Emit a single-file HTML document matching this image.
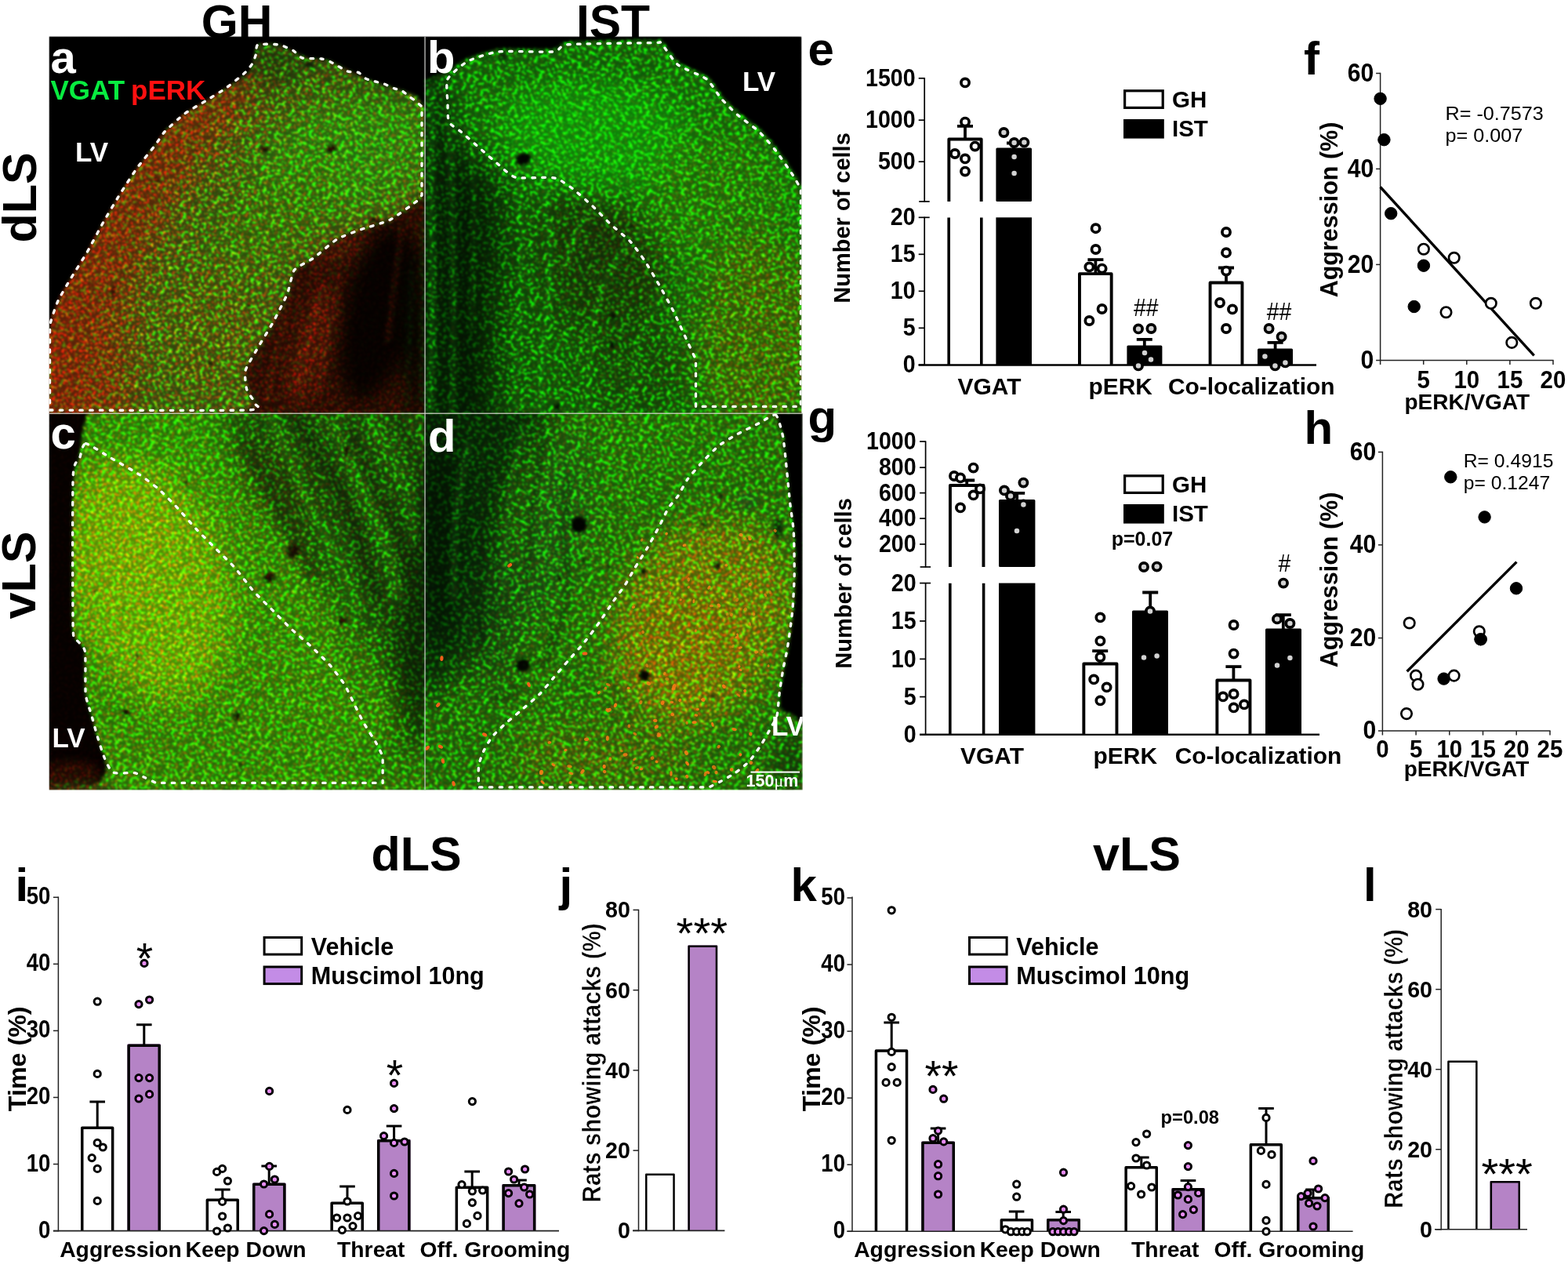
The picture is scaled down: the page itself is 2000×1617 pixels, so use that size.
<!DOCTYPE html>
<html lang="en">
<head>
<meta charset="utf-8">
<title>Figure: VGAT / pERK in dLS and vLS</title>
<style>
html,body{margin:0;padding:0;background:#fff;}
html{overflow:hidden;}
body{width:2000px;height:1617px;overflow:hidden;}
svg{display:block;}
text{font-family:"Liberation Sans",Arial,Helvetica,sans-serif;}
</style>
</head>
<body>
<svg width="2000" height="1617" viewBox="0 0 2000 1617" fill="#000" font-weight="bold">
<g stroke="none">
<text stroke="none" x="302" y="48.6" font-size="60.5" text-anchor="middle">GH</text>
<text stroke="none" x="782" y="48.6" font-size="60.5" text-anchor="middle">IST</text>
</g>
<defs>
<clipPath id="cpA"><rect x="62.6" y="46.6" width="479.2" height="480.6"/></clipPath>
<clipPath id="cpB"><rect x="541.8" y="46.6" width="480.7" height="480.6"/></clipPath>
<clipPath id="cpC"><rect x="62.6" y="527.2" width="479.2" height="480.4"/></clipPath>
<clipPath id="cpD"><rect x="541.8" y="527.2" width="482" height="480.4"/></clipPath>
<clipPath id="cpAll"><path d="M62.6 46.6H1022.5V527.2H1023.8V1007.6H62.6Z"/></clipPath>
<clipPath id="dkA"><path d="M314.7 539.13C291.11 536.09 325.35 519.04 325.35 514.78C325.35 510.52 315.91 500.78 314.7 496.52C313.48 492.26 311.65 477.65 313.17 472.17C314.7 466.7 326.41 447.83 329.91 441.74C333.41 435.65 344.52 418 348.17 411.3C351.83 404.61 363.7 381.48 366.43 374.78C369.17 368.09 372.22 348.91 375.57 344.35C378.91 339.78 394.43 333.09 399.91 329.13C405.39 325.17 424.26 308.43 430.35 304.78C436.43 301.13 454.09 295.04 460.78 292.61C467.48 290.17 489.39 284.7 497.3 280.43C505.22 276.17 533.52 254.57 539.91 250C546.3 245.43 559.09 205.26 561.22 234.78C563.35 264.3 585.87 514.78 561.22 545.22C536.57 575.65 338.28 542.17 314.7 539.13Z"/></clipPath>
<filter id="b20" x="-40%" y="-40%" width="180%" height="180%" color-interpolation-filters="sRGB"><feGaussianBlur stdDeviation="20"/></filter>
<filter id="b12" x="-40%" y="-40%" width="180%" height="180%" color-interpolation-filters="sRGB"><feGaussianBlur stdDeviation="12"/></filter>
<filter id="b6" x="-40%" y="-40%" width="180%" height="180%" color-interpolation-filters="sRGB"><feGaussianBlur stdDeviation="6"/></filter>
<filter id="b3" x="-40%" y="-40%" width="180%" height="180%" color-interpolation-filters="sRGB"><feGaussianBlur stdDeviation="3"/></filter>
<filter id="b15" x="-40%" y="-40%" width="180%" height="180%" color-interpolation-filters="sRGB"><feGaussianBlur stdDeviation="1.5"/></filter>
<filter id="b1" x="-40%" y="-40%" width="180%" height="180%" color-interpolation-filters="sRGB"><feGaussianBlur stdDeviation="1"/></filter>
<filter id="b07" x="-40%" y="-40%" width="180%" height="180%" color-interpolation-filters="sRGB"><feGaussianBlur stdDeviation="0.7"/></filter>
<filter id="spk" filterUnits="userSpaceOnUse" x="-110" y="-125" width="1304" height="1304" color-interpolation-filters="sRGB"><feTurbulence type="fractalNoise" baseFrequency="0.21 0.26" numOctaves="2" seed="7" result="na"/><feColorMatrix in="na" type="matrix" values="0 0 0 0 0  0 8 0 0 -4.4  0 0 0 0 0  0 0 0 0 1" result="ga"/><feTurbulence type="fractalNoise" baseFrequency="0.3 0.35" numOctaves="2" seed="3" result="nb"/><feColorMatrix in="nb" type="matrix" values="8 0 0 0 -4.4  0 0 0 0 0  0 0 0 0 0  0 0 0 0 1" result="rb"/><feComposite in="ga" in2="rb" operator="arithmetic" k1="0" k2="1" k3="1" k4="0" result="n2"/><feComposite in="SourceGraphic" in2="n2" operator="arithmetic" k1="2" k2="0.65" k3="0" k4="0"/><feGaussianBlur stdDeviation="0.85"/></filter>
</defs>
<g clip-path="url(#cpAll)"><g id="micrographs" transform="rotate(27 542 527)" filter="url(#spk)"><g transform="rotate(-27 542 527)">
<g clip-path="url(#cpA)">
<rect x="62" y="46" width="481" height="482" fill="#4a6c14"/>
<g filter="url(#b20)"><path d="M37.74 557.39C21.91 535.07 30.03 423.28 37.74 390C45.45 356.72 79.74 332.58 95.57 307.83C111.39 283.07 138.99 227.88 156.43 204.35C173.88 180.81 207.36 147.13 226.43 131.3C245.51 115.48 285.68 97.01 299.48 85.65C313.28 74.29 321.39 47.71 329.91 46.09C338.43 44.46 367.45 59.68 363.39 73.48C359.33 87.28 316.12 128.87 299.48 149.57C282.84 170.26 252.81 206.78 238.61 228.7C224.41 250.61 202.7 290.38 192.96 313.91C183.22 337.45 170.43 372.75 165.57 405.22C160.7 437.68 173.48 537.1 156.43 557.39C139.39 577.68 53.57 579.71 37.74 557.39Z" fill="#7e3c0c"/><path d="M31.65 557.39C22.72 536.29 25.97 426.72 31.65 399.13C37.33 371.54 61.68 367.48 74.26 350.43C86.84 333.39 111.39 293.62 126 271.3C140.61 248.99 179.77 183.04 183.83 183.04C187.88 183.04 164.96 247.36 156.43 271.3C147.91 295.25 127.22 340.7 119.91 362.61C112.61 384.52 104.49 409.68 101.65 435.65C98.81 461.62 107.94 541.16 98.61 557.39C89.28 573.62 40.58 578.49 31.65 557.39Z" fill="#8e300a" opacity="0.9"/><ellipse cx="442.52" cy="198.26" rx="121.74" ry="70" fill="#37a214" opacity="0.95" transform="rotate(-18 442.52 198.26)"/><ellipse cx="348.17" cy="283.48" rx="91.3" ry="45.65" fill="#40880f" opacity="0.75" transform="rotate(-40 348.17 283.48)"/><ellipse cx="269.04" cy="420.43" rx="60.87" ry="79.13" fill="#5a6a10" opacity="0.6" transform="rotate(10 269.04 420.43)"/><ellipse cx="348.17" cy="79.57" rx="45.65" ry="30.43" fill="#1e4b0e" opacity="0.95"/><ellipse cx="466.87" cy="97.83" rx="79.13" ry="18.26" fill="#2c5a10" opacity="0.8" transform="rotate(12 466.87 97.83)"/></g>
<g filter="url(#b3)"><path d="M314.7 539.13C291.11 536.09 325.35 519.04 325.35 514.78C325.35 510.52 315.91 500.78 314.7 496.52C313.48 492.26 311.65 477.65 313.17 472.17C314.7 466.7 326.41 447.83 329.91 441.74C333.41 435.65 344.52 418 348.17 411.3C351.83 404.61 363.7 381.48 366.43 374.78C369.17 368.09 372.22 348.91 375.57 344.35C378.91 339.78 394.43 333.09 399.91 329.13C405.39 325.17 424.26 308.43 430.35 304.78C436.43 301.13 454.09 295.04 460.78 292.61C467.48 290.17 489.39 284.7 497.3 280.43C505.22 276.17 533.52 254.57 539.91 250C546.3 245.43 559.09 205.26 561.22 234.78C563.35 264.3 585.87 514.78 561.22 545.22C536.57 575.65 338.28 542.17 314.7 539.13Z" fill="#300f04"/></g>
<g clip-path="url(#dkA)">
<g filter="url(#b12)"><ellipse cx="482.09" cy="399.13" rx="45.65" ry="115.65" fill="#070200" transform="rotate(12 482.09 399.13)"/><ellipse cx="530.78" cy="420.43" rx="15.22" ry="115.65" fill="#060601"/><ellipse cx="396.87" cy="444.78" rx="21.3" ry="79.13" fill="#5a1c08" opacity="0.9" transform="rotate(18 396.87 444.78)"/><ellipse cx="436.43" cy="313.91" rx="36.52" ry="18.26" fill="#4a1a08" opacity="0.8" transform="rotate(-25 436.43 313.91)"/></g>
<g filter="url(#b3)"><path d="M412.09 362.61C409.8 371.28 401.89 401.26 396.87 420.43C391.85 439.61 381.35 479.93 378.61 490.43" fill="none" stroke="#8a2a10" stroke-width="2.74" stroke-linecap="round" opacity="0.8"/><path d="M433.39 347.39C431.57 357.43 425.33 391.07 421.22 414.35C417.11 437.63 408.28 489.37 406 502.61" fill="none" stroke="#7a2810" stroke-width="2.43" stroke-linecap="round" opacity="0.7"/><path d="M363.39 399.13C361.11 409.17 351.83 448.74 348.17 466.09C344.52 483.43 340.41 507.48 339.04 514.78" fill="none" stroke="#7a2a10" stroke-width="2.74" stroke-linecap="round" opacity="0.7"/><path d="M512.52 289.57C511.15 300.07 506.13 337.65 503.39 359.57C500.65 381.48 495.63 424.24 494.26 435.65" fill="none" stroke="#5a2008" stroke-width="3.04" stroke-linecap="round" opacity="0.7"/><path d="M539.91 271.3C539.82 286.83 539.53 338.26 539.3 374.78C539.08 411.3 538.53 493.78 538.39 514.78" fill="none" stroke="#0f4a0c" stroke-width="2.13" stroke-linecap="round" opacity="0.9"/><path d="M524.7 344.35C524.24 358.04 522.57 410.09 521.65 435.65C520.74 461.22 519.07 502.91 518.61 514.78" fill="none" stroke="#0c300a" stroke-width="1.83" stroke-linecap="round" opacity="0.8"/></g>
</g>
<g filter="url(#b15)"><ellipse cx="337.52" cy="189.74" rx="4.87" ry="3.96" fill="#1c0a02" transform="rotate(30 337.52 189.74)"/><ellipse cx="422.74" cy="189.74" rx="6.09" ry="4.26" fill="#1c0a02" transform="rotate(-20 422.74 189.74)"/><ellipse cx="199.04" cy="230.22" rx="6.7" ry="2.74" fill="#3a1a06" opacity="0.8" transform="rotate(30 199.04 230.22)"/><ellipse cx="477.52" cy="281.96" rx="6.7" ry="4.87" fill="#2a0e04" opacity="0.9"/><ellipse cx="144.26" cy="371.74" rx="3.65" ry="6.7" fill="#3a1206" opacity="0.8" transform="rotate(10 144.26 371.74)"/><ellipse cx="269.04" cy="463.04" rx="2.74" ry="2.74" fill="#1c1004"/><ellipse cx="317.74" cy="390" rx="2.13" ry="2.13" fill="#1c1004"/><ellipse cx="393.83" cy="82" rx="7.91" ry="3.04" fill="#12200a" opacity="0.9"/><ellipse cx="291.87" cy="409.78" rx="2.43" ry="2.43" fill="#1c1004"/></g>
<g filter="url(#b15)"><path d="M561.22 134.35C559.09 145.61 542.96 135.57 539.91 134.35C536.87 133.13 534.13 124.3 530.78 122.17C527.43 120.04 511.91 114.87 506.43 113.04C500.96 111.22 481.48 105.89 476 103.91C470.52 101.93 457.13 95.85 451.65 93.26C446.17 90.67 427 79.96 421.22 78.04C415.43 76.13 398.7 75.46 393.83 74.09C388.96 72.72 376.48 66.08 372.52 64.35C368.57 62.61 358.52 57.5 354.26 56.74C350 55.98 332.96 55.07 329.91 56.74C326.87 58.41 325.04 69.98 323.83 73.48C322.61 76.98 321.39 87.78 317.74 91.74C314.09 95.7 292.78 109.39 287.3 113.04C281.83 116.7 268.13 125.07 262.96 128.26C257.78 131.46 240.86 141.04 235.57 145C230.27 148.96 213.77 163.78 210 167.83C206.23 171.87 201.33 180.85 197.83 185.48C194.33 190.1 179.44 207.91 175 214.09C170.56 220.27 157.68 240.38 153.39 247.26C149.1 254.14 136.32 275.44 132.09 282.87C127.86 290.3 115.2 314.4 111.09 321.52C106.98 328.64 94.68 347.91 91 354.09C87.32 360.27 76.85 377.83 74.26 383.3C71.67 388.78 66.29 404.85 65.13 408.87C63.97 412.89 65.43 421.71 62.7 423.48C59.96 425.24 40.23 466.7 37.74 426.52C35.24 386.35 -14.61 62.22 37.74 21.74C90.09 -18.74 508.87 10.48 561.22 21.74C613.57 33 563.35 123.09 561.22 134.35Z" fill="#000"/></g>
</g>
<g clip-path="url(#cpB)">
<rect x="541" y="46" width="483" height="482" fill="#198c0e"/>
<g filter="url(#b20)"><path d="M517.74 85.65C524.64 24.78 560.96 89.91 569.48 100.87C578 111.83 573.13 151.59 581.65 167.83C590.17 184.06 623.25 203.13 633.39 222.61C643.54 242.09 656.52 287.54 657.74 313.91C658.96 340.29 645.36 387.97 642.52 420.43C639.68 452.9 653.07 539.13 636.43 557.39C619.8 575.65 533.57 620.29 517.74 557.39C501.91 494.49 510.84 146.52 517.74 85.65Z" fill="#072c06"/><ellipse cx="596.87" cy="390" rx="22.83" ry="170.43" fill="#031a03"/><ellipse cx="767.3" cy="344.35" rx="76.09" ry="103.48" fill="#1e3a08" transform="rotate(-28 767.3 344.35)"/><ellipse cx="755.13" cy="313.91" rx="39.57" ry="63.91" fill="#20300a" opacity="0.85" transform="rotate(-28 755.13 313.91)"/><ellipse cx="809.91" cy="466.09" rx="70" ry="60.87" fill="#1c540a" opacity="0.85"/><ellipse cx="682.09" cy="450.87" rx="21.3" ry="91.3" fill="#14700c" opacity="0.6" transform="rotate(8 682.09 450.87)"/><path d="M636.43 234.78C651.45 194.2 721.86 232.35 749.04 253.04C776.23 273.74 823.3 349.42 840.35 390C857.39 430.58 904.06 535.07 876.87 557.39C849.68 579.71 668.49 600.41 636.43 557.39C604.38 514.38 621.42 275.36 636.43 234.78Z" fill="#145c0a" opacity="0.5"/><ellipse cx="761.22" cy="170.87" rx="121.74" ry="70" fill="#16cc0e" opacity="0.9" transform="rotate(8 761.22 170.87)"/><ellipse cx="916.43" cy="259.13" rx="91.3" ry="85.22" fill="#2c980c" opacity="0.8" transform="rotate(40 916.43 259.13)"/><ellipse cx="968.17" cy="429.57" rx="79.13" ry="127.83" fill="#42800a" opacity="0.95"/><ellipse cx="718.61" cy="79.57" rx="152.17" ry="15.22" fill="#126a0c" opacity="0.7"/></g>
<g filter="url(#b3)"><path d="M551.22 113.04C550.99 134.04 549.7 209.22 549.7 253.04C549.7 296.87 551.45 364.13 551.22 405.22C550.99 446.3 548.63 508.7 548.17 526.96" fill="none" stroke="#168a12" stroke-width="6.09" stroke-linecap="round" opacity="0.7"/><path d="M572.52 131.3C573.21 154.13 576.17 242.39 577.09 283.48C578 324.57 578.61 368.7 578.61 405.22C578.61 441.74 577.32 508.7 577.09 526.96" fill="none" stroke="#1c9616" stroke-width="2.43" stroke-linecap="round" opacity="0.9"/><path d="M601.43 146.52C601.89 167.07 604.48 242.39 604.48 283.48C604.48 324.57 601.89 399.89 601.43 420.43" fill="none" stroke="#18800f" stroke-width="2.13" stroke-linecap="round" opacity="0.8"/><path d="M657.74 210.43C658.88 225.96 664.89 282.41 665.35 313.91C665.8 345.41 661.92 388.48 660.78 420.43C659.64 452.39 658.2 510.98 657.74 526.96" fill="none" stroke="#1a9a14" stroke-width="2.74" stroke-linecap="round" opacity="0.85"/><path d="M694.26 222.61C695.4 238.59 701.87 297.17 701.87 329.13C701.87 361.09 696.32 405.98 694.26 435.65C692.21 465.33 689.09 513.26 688.17 526.96" fill="none" stroke="#1c9616" stroke-width="4.26" stroke-linecap="round" opacity="0.8"/><path d="M749.04 526.96C749.96 510.98 750.57 447.83 755.13 420.43C759.7 393.04 768.52 364.89 779.48 344.35C790.43 323.8 820.87 292.61 828.17 283.48" fill="none" stroke="#1f8e14" stroke-width="4.87" stroke-linecap="round" opacity="0.7"/><path d="M803.83 526.96C805.65 513.26 809.61 459.39 816 435.65C822.39 411.91 841.87 378.74 846.43 368.7" fill="none" stroke="#1f8e14" stroke-width="4.26" stroke-linecap="round" opacity="0.6"/><path d="M718.61 344.35C722.26 335.22 732.91 299.91 742.96 283.48C753 267.04 772.78 245.74 785.57 234.78C798.35 223.83 821.78 214.09 828.17 210.43" fill="none" stroke="#249a16" stroke-width="4.26" stroke-linecap="round" opacity="0.7"/><path d="M730.78 253.04C736.26 244.83 755.43 211.04 767.3 198.26C779.17 185.48 803.52 172.39 809.91 167.83" fill="none" stroke="#249a16" stroke-width="3.65" stroke-linecap="round" opacity="0.6"/><path d="M694.26 277.39C697.91 274.65 710.39 260.04 718.61 259.13C726.83 258.22 739.91 263.09 749.04 271.3C758.17 279.52 774.91 307.52 779.48 313.91" fill="none" stroke="#1c3a0c" stroke-width="6.7" stroke-linecap="round" opacity="0.5"/></g>
<g filter="url(#b15)"><ellipse cx="667.48" cy="202.83" rx="9.74" ry="7.3" fill="#020401" transform="rotate(-20 667.48 202.83)"/><ellipse cx="781" cy="402.17" rx="3.96" ry="3.65" fill="#081004"/><ellipse cx="781" cy="440.22" rx="3.96" ry="3.65" fill="#081004"/><ellipse cx="711" cy="518.43" rx="4.26" ry="3.65" fill="#081004"/><ellipse cx="641" cy="71.96" rx="4.87" ry="4.26" fill="#0c2a0a"/><ellipse cx="940.78" cy="280.43" rx="5.48" ry="3.65" fill="#2a5a14" opacity="0.9" transform="rotate(30 940.78 280.43)"/><ellipse cx="916.43" cy="300.22" rx="2.43" ry="2.43" fill="#1c3a0c"/><ellipse cx="805.35" cy="288.04" rx="2.74" ry="2.74" fill="#14300a"/><ellipse cx="974.26" cy="464.57" rx="3.65" ry="8.52" fill="#3c6a18" opacity="0.8" transform="rotate(-20 974.26 464.57)"/></g>
<g filter="url(#b15)"><path d="M517.74 103.91C520.23 111.83 538.74 101.63 542.7 100.87C546.65 100.11 554.47 97.37 557.3 96.3C560.13 95.24 567.04 92.44 571 90.22C574.96 88 590.33 76.86 596.87 74.09C603.41 71.32 625.48 63.68 636.43 62.52C647.39 61.37 697.61 63.43 706.43 62.52C715.26 61.61 711.91 54.55 724.7 53.39C737.48 52.23 822.24 51.02 834.26 50.96C846.28 50.9 841.72 49.92 844.91 52.78C848.11 55.64 860.43 75.06 866.22 79.57C872 84.07 897.26 93.57 902.74 97.83C908.22 102.09 917.04 117.61 921 122.17C924.96 126.74 937.43 139.22 942.3 143.48C947.17 147.74 964.83 160.22 969.7 164.78C974.57 169.35 986.74 183.65 991 189.13C995.26 194.61 1009.11 214.7 1012.3 219.57C1015.5 224.43 1020.07 234.48 1022.96 237.83C1025.85 241.17 1039.39 274.65 1041.22 253.04C1043.04 231.43 1093.57 44.87 1041.22 21.74C988.87 -1.39 570.09 13.52 517.74 21.74C465.39 29.96 515.24 96 517.74 103.91Z" fill="#000"/></g>
</g>
<g clip-path="url(#cpC)">
<rect x="62" y="527" width="481" height="482" fill="#3ca50a"/>
<g filter="url(#b20)"><ellipse cx="186.87" cy="739.13" rx="100.43" ry="158.26" fill="#74dc08" opacity="0.95" transform="rotate(-18 186.87 739.13)"/><ellipse cx="156.43" cy="690.43" rx="60.87" ry="91.3" fill="#88d808" opacity="0.6" transform="rotate(-10 156.43 690.43)"/><ellipse cx="226.43" cy="559.57" rx="115.65" ry="33.48" fill="#34b00a" opacity="0.8"/><path d="M299.48 501.74C335.19 489.97 536.87 440.46 573.39 501.74C609.91 563.01 580.7 906.12 573.39 961.3C566.09 1016.49 532.41 932.29 518.61 915.65C504.81 899.01 483.71 858.43 469.91 836.52C456.12 814.61 430.55 774.43 415.13 751.3C399.71 728.17 368.87 684.55 354.26 663.04C339.65 641.54 312.87 611.51 305.57 590C298.26 568.49 263.77 513.51 299.48 501.74Z" fill="#1e5a0c"/><ellipse cx="535.35" cy="787.83" rx="22.83" ry="182.61" fill="#081f06" transform="rotate(4 535.35 787.83)"/><ellipse cx="363.39" cy="620.43" rx="39.57" ry="60.87" fill="#26440a" opacity="0.85" transform="rotate(-30 363.39 620.43)"/><ellipse cx="360.35" cy="961.3" rx="140" ry="54.78" fill="#38a40a" opacity="0.7"/><ellipse cx="506.43" cy="976.52" rx="45.65" ry="39.57" fill="#227c0c" opacity="0.6"/></g>
<g filter="url(#b6)"><path d="M376.17 529.13C384.39 542.92 418.04 595.52 430.96 621.04C443.88 646.56 454.63 677.9 462.3 699.26C469.97 720.63 479.12 753.85 482.09 763.48" fill="none" stroke="#142e08" stroke-width="15.22" stroke-linecap="round" opacity="0.85"/><path d="M446.48 550.43C451.18 561.03 468.42 601.09 477.83 621.04C487.23 640.99 502.6 666.63 509.17 683.43C515.75 700.23 519.78 725.6 521.65 733.04" fill="none" stroke="#142e08" stroke-width="10.96" stroke-linecap="round" opacity="0.85"/><path d="M313.48 565.65C321.7 580.99 355.3 642.8 368.26 667.91C381.23 693.02 395.17 723.27 399.91 733.04" fill="none" stroke="#1c3a0a" stroke-width="18.26" stroke-linecap="round" opacity="0.7"/><path d="M344.83 532.17C351.86 547.83 378.78 609.17 391.7 636.57C404.62 663.96 421.05 693.01 430.96 714.78C440.86 736.56 453.72 771.7 457.74 781.74" fill="none" stroke="#2ea40e" stroke-width="9.13" stroke-linecap="round" opacity="0.8"/><path d="M423.04 538.26C427.75 548.3 443.8 581.07 454.39 605.22C464.98 629.37 485.85 675.52 493.65 699.26C501.46 723 504.52 753.85 506.43 763.48" fill="none" stroke="#2ea40e" stroke-width="7.91" stroke-linecap="round" opacity="0.8"/><path d="M469.91 532.17C476.99 545.5 508.64 597.3 517.09 621.04C525.53 644.78 524.85 680.03 526.22 690.43" fill="none" stroke="#2a9a0e" stroke-width="6.7" stroke-linecap="round" opacity="0.8"/><path d="M506.43 529.13C510.77 539.17 530.33 578.28 535.35 596.09C540.37 613.89 539.23 640.07 539.91 647.83" fill="none" stroke="#102a08" stroke-width="7.3" stroke-linecap="round" opacity="0.8"/><path d="M430.35 809.13C433.09 815.98 444.04 841.09 448.61 854.78C453.17 868.48 458.96 893.59 460.78 900.43" fill="none" stroke="#163c0c" stroke-width="6.09" stroke-linecap="round" opacity="0.5"/><path d="M476 793.91C476.91 800.76 480.26 825.87 482.09 839.57C483.91 853.26 487.26 878.37 488.17 885.22" fill="none" stroke="#30940e" stroke-width="4.26" stroke-linecap="round" opacity="0.5"/></g>
<g filter="url(#b15)"><ellipse cx="374.04" cy="702.61" rx="7.91" ry="9.13" fill="#1a1204" transform="rotate(30 374.04 702.61)"/><ellipse cx="343.61" cy="736.09" rx="7.3" ry="6.7" fill="#1a1204" transform="rotate(30 343.61 736.09)"/><ellipse cx="442.52" cy="575.39" rx="4.26" ry="6.09" fill="#1c1606" transform="rotate(10 442.52 575.39)"/><ellipse cx="436.43" cy="791.48" rx="5.48" ry="4.87" fill="#1a1404"/><ellipse cx="161" cy="908.04" rx="4.57" ry="4.57" fill="#1a1004"/><ellipse cx="301.91" cy="913.22" rx="4.26" ry="5.48" fill="#1a1004"/><ellipse cx="174.7" cy="838.04" rx="2.74" ry="5.48" fill="#3a5a14" opacity="0.9" transform="rotate(10 174.7 838.04)"/><ellipse cx="176.22" cy="870" rx="2.43" ry="2.43" fill="#2a3a0c"/><ellipse cx="121.43" cy="754.35" rx="2.13" ry="2.13" fill="#2a3a0c"/><ellipse cx="237.09" cy="615.26" rx="2.43" ry="2.43" fill="#2a2a08"/><ellipse cx="197.52" cy="618.91" rx="2.43" ry="1.83" fill="#2a2a08"/><ellipse cx="156.43" cy="780.22" rx="1.83" ry="1.83" fill="#2a3a0c"/><ellipse cx="307.09" cy="975" rx="3.04" ry="2.13" fill="#2a3a0c"/><ellipse cx="450.13" cy="964.35" rx="2.13" ry="2.13" fill="#1c3a0c"/></g>
<g filter="url(#b15)"><path d="M113.83 501.74C121.13 504.48 111.63 524.26 110.78 529.13C109.93 534 106.22 545.26 105.3 550.43C104.39 555.61 102.75 575.24 101.65 580.87C100.56 586.5 95.26 597.61 94.35 606.74C93.43 615.87 92.7 653.46 92.52 672.17C92.34 690.89 92.1 779.67 92.52 793.91C92.95 808.16 95.26 811.2 96.78 814.61C98.3 818.02 106.52 820.94 107.74 828C108.96 835.06 108.04 876.76 108.96 885.22C109.87 893.68 115.26 906.98 116.87 912.61C118.48 918.24 123.44 936.1 125.09 941.52C126.73 946.94 132.24 962.67 133.3 966.78C134.37 970.89 136.47 979.5 135.74 982.61C135.01 985.71 129.41 995.39 126 997.83C122.59 1000.26 110.48 1003 101.65 1006.96C92.83 1010.91 44.13 1087.91 37.74 1037.39C31.35 986.87 30.13 555.3 37.74 501.74C45.35 448.17 106.52 499 113.83 501.74Z" fill="#070100"/></g>
<g filter="url(#b6)"><ellipse cx="89.48" cy="985.65" rx="39.57" ry="15.22" fill="#2c0d03" opacity="0.95"/><ellipse cx="95.57" cy="1010" rx="57.83" ry="10.35" fill="#3c4812" opacity="0.95"/></g>
</g>
<g clip-path="url(#cpD)">
<rect x="541" y="527" width="484" height="482" fill="#28860c"/>
<g filter="url(#b20)"><path d="M517.74 501.74C542.9 451.42 686.96 489.16 706.43 501.74C725.91 514.32 673.16 569.3 663.83 596.09C654.49 622.87 641.3 676.23 636.43 702.61C631.57 728.99 634.2 772.81 627.3 793.91C620.41 815.01 599.3 849.51 584.7 860.87C570.09 872.23 526.67 927.01 517.74 879.13C508.81 831.25 492.58 552.06 517.74 501.74Z" fill="#083208"/><ellipse cx="554.26" cy="666.09" rx="22.83" ry="164.35" fill="#021603"/><ellipse cx="706.43" cy="672.17" rx="39.57" ry="130.87" fill="#1c661a" opacity="0.7" transform="rotate(14 706.43 672.17)"/><ellipse cx="636.43" cy="793.91" rx="30.43" ry="100.43" fill="#144a16" opacity="0.6" transform="rotate(5 636.43 793.91)"/><ellipse cx="895.13" cy="793.91" rx="106.52" ry="136.96" fill="#729408" opacity="0.95" transform="rotate(30 895.13 793.91)"/><ellipse cx="879.91" cy="818.26" rx="60.87" ry="76.09" fill="#8a8a08" opacity="0.65" transform="rotate(30 879.91 818.26)"/><ellipse cx="767.3" cy="964.35" rx="121.74" ry="39.57" fill="#527e0a" opacity="0.65"/><ellipse cx="840.35" cy="574.78" rx="100.43" ry="45.65" fill="#26900c" opacity="0.7" transform="rotate(-10 840.35 574.78)"/><ellipse cx="1010.78" cy="970.43" rx="21.3" ry="45.65" fill="#0e380c" opacity="0.95"/><ellipse cx="596.87" cy="946.09" rx="60.87" ry="60.87" fill="#207c0c" opacity="0.6"/></g>
<g filter="url(#b3)"><path d="M596.87 565.65C594.59 579.35 584.39 627.28 581.65 656.96C578.91 686.63 579.07 747.5 578.61 763.48" fill="none" stroke="#1f7a1c" stroke-width="4.87" stroke-linecap="round" opacity="0.6"/><path d="M636.43 550.43C633.7 565.04 621.83 615.87 618.17 647.83C614.52 679.78 612.54 737 612.09 763.48C611.63 789.96 614.67 815.22 615.13 824.35" fill="none" stroke="#0a2a0a" stroke-width="6.7" stroke-linecap="round" opacity="0.7"/><path d="M666.87 544.35C664.13 558.96 652.26 610.7 648.61 641.74C644.96 672.78 643.43 734.87 642.52 751.3" fill="none" stroke="#2a8a20" stroke-width="4.87" stroke-linecap="round" opacity="0.6"/><path d="M694.26 556.52C691.98 570.22 682.24 620.43 679.04 647.83C675.85 675.22 673.87 725.43 672.96 739.13" fill="none" stroke="#0c300a" stroke-width="6.09" stroke-linecap="round" opacity="0.6"/><path d="M724.7 611.3C723.78 621.35 718.61 657.26 718.61 678.26C718.61 699.26 726.52 729.39 724.7 751.3C722.87 773.22 709.17 813.39 706.43 824.35" fill="none" stroke="#0e340c" stroke-width="4.26" stroke-linecap="round" opacity="0.7"/><path d="M679.04 836.52C681.33 838.35 690.84 850.52 694.26 848.7C697.68 846.87 700.5 832.57 701.87 824.35C703.24 816.13 703.16 798.48 703.39 793.91" fill="none" stroke="#0c2c0a" stroke-width="3.65" stroke-linecap="round" opacity="0.8"/><path d="M627.3 888.26C631.41 888.49 650.36 892.52 654.7 889.78C659.03 887.04 655.99 872.97 656.22 870" fill="none" stroke="#0e300a" stroke-width="3.65" stroke-linecap="round" opacity="0.7"/><path d="M779.48 860.87C781.76 865.89 790.82 886.59 794.7 894.35C798.58 902.11 803.75 909.87 805.35 912.61" fill="none" stroke="#1c3a0c" stroke-width="2.13" stroke-linecap="round" opacity="0.8"/><ellipse cx="952.96" cy="638.7" rx="13.7" ry="10.65" fill="#2a7420" opacity="0.8"/></g>
<g filter="url(#b15)"><ellipse cx="738.39" cy="669.13" rx="10.35" ry="10.35" fill="#010200"/><ellipse cx="666.87" cy="848.09" rx="9.13" ry="8.52" fill="#030601"/><ellipse cx="822.09" cy="861.48" rx="7.3" ry="6.7" fill="#040300" transform="rotate(30 822.09 861.48)"/><ellipse cx="820.57" cy="728.48" rx="3.35" ry="3.65" fill="#0a0a02"/><ellipse cx="914.91" cy="721.48" rx="4.57" ry="4.57" fill="#14200a"/><ellipse cx="992.52" cy="673.7" rx="5.48" ry="12.78" fill="#0c300a" opacity="0.9"/><ellipse cx="746" cy="714.78" rx="2.74" ry="2.74" fill="#0c1a06"/><ellipse cx="714.04" cy="737.61" rx="3.65" ry="2.43" fill="#0c1a06"/><ellipse cx="898.17" cy="667.61" rx="3.65" ry="3.04" fill="#14300c"/><ellipse cx="919.48" cy="632.61" rx="3.65" ry="3.04" fill="#14300c"/><ellipse cx="819.04" cy="611.3" rx="1.83" ry="2.43" fill="#0c1a06"/><ellipse cx="908.83" cy="888.26" rx="3.04" ry="2.13" fill="#1c300c"/><ellipse cx="879.91" cy="915.04" rx="2.43" ry="1.83" fill="#1c300c"/><ellipse cx="776.43" cy="722.39" rx="2.43" ry="2.43" fill="#1c300c"/></g>
<g filter="url(#b15)"><path d="M986.43 501.74C981.32 504.48 988.81 523.65 990.09 529.13C991.37 534.61 997.85 549.83 999.22 556.52C1000.59 563.22 1002.87 587.57 1003.78 596.09C1004.7 604.61 1007.4 633.52 1008.35 641.74C1009.29 649.96 1012.55 669.13 1013.22 678.26C1013.89 687.39 1015.17 723 1015.04 733.04C1014.92 743.09 1012.91 769.57 1012 778.7C1011.09 787.83 1007.13 816.74 1005.91 824.35C1004.7 831.96 1000.92 848.7 999.83 854.78C998.73 860.87 995.32 880.29 994.96 885.22C994.59 890.15 994.59 901.5 996.17 904.09C997.76 906.67 1006.28 910.23 1010.78 911.09C1015.29 911.94 1038.17 953.54 1041.22 912.61C1044.26 871.67 1046.7 542.83 1041.22 501.74C1035.74 460.65 991.55 499 986.43 501.74Z" fill="#000"/></g>
</g>
</g></g></g>
<g clip-path="url(#cpAll)">
<g filter="url(#b07)"><ellipse cx="774.84" cy="941.55" rx="3.23" ry="1.95" fill="#f47a16" opacity="0.9" transform="rotate(91.41 774.84 941.55)"/><ellipse cx="837.51" cy="971.36" rx="1.97" ry="1.8" fill="#f47a16" opacity="0.95" transform="rotate(16.32 837.51 971.36)"/><ellipse cx="859.94" cy="875.35" rx="3.32" ry="2.4" fill="#f47a16" opacity="0.9" transform="rotate(117.71 859.94 875.35)"/><ellipse cx="801.67" cy="877.61" rx="2.12" ry="1.74" fill="#f47a16" opacity="0.87" transform="rotate(5.41 801.67 877.61)"/><ellipse cx="770.66" cy="977.68" rx="2.62" ry="2.11" fill="#f47a16" opacity="0.92" transform="rotate(89.96 770.66 977.68)"/><ellipse cx="776.59" cy="905.56" rx="3.34" ry="2.43" fill="#f47a16" opacity="0.93" transform="rotate(151.24 776.59 905.56)"/><ellipse cx="885.66" cy="921.18" rx="3.11" ry="1.87" fill="#f47a16" opacity="0.96" transform="rotate(172.45 885.66 921.18)"/><ellipse cx="936.5" cy="930.08" rx="3.32" ry="1.88" fill="#f47a16" opacity="0.91" transform="rotate(13.15 936.5 930.08)"/><ellipse cx="889.98" cy="904.48" rx="1.96" ry="1.83" fill="#f47a16" opacity="0.94" transform="rotate(173.53 889.98 904.48)"/><ellipse cx="896.51" cy="892.71" rx="2.68" ry="1.93" fill="#f47a16" opacity="0.93" transform="rotate(34.32 896.51 892.71)"/><ellipse cx="957.91" cy="972.7" rx="2.29" ry="2.33" fill="#f47a16" opacity="0.85" transform="rotate(37.93 957.91 972.7)"/><ellipse cx="916.76" cy="952.04" rx="1.98" ry="2.43" fill="#f47a16" opacity="0.81" transform="rotate(38.38 916.76 952.04)"/><ellipse cx="887.92" cy="912.05" rx="2.28" ry="1.59" fill="#f47a16" opacity="0.9" transform="rotate(16.22 887.92 912.05)"/><ellipse cx="700.92" cy="946.86" rx="2.39" ry="1.94" fill="#f47a16" opacity="0.87" transform="rotate(172.64 700.92 946.86)"/><ellipse cx="817.98" cy="980.76" rx="2.1" ry="1.66" fill="#f47a16" opacity="0.95" transform="rotate(163.52 817.98 980.76)"/><ellipse cx="876.18" cy="990.21" rx="2.13" ry="2.39" fill="#f47a16" opacity="0.9" transform="rotate(158.79 876.18 990.21)"/><ellipse cx="763.92" cy="883.27" rx="1.88" ry="2.4" fill="#f47a16" opacity="0.93" transform="rotate(42.91 763.92 883.27)"/><ellipse cx="705.86" cy="975.29" rx="2.73" ry="1.79" fill="#f47a16" opacity="0.93" transform="rotate(31.58 705.86 975.29)"/><ellipse cx="812.61" cy="978.96" rx="2.76" ry="1.78" fill="#f47a16" opacity="0.8" transform="rotate(165.12 812.61 978.96)"/><ellipse cx="772.48" cy="877.73" rx="2.09" ry="1.86" fill="#f47a16" opacity="0.78" transform="rotate(102.99 772.48 877.73)"/><ellipse cx="742.98" cy="983.89" rx="3.32" ry="2.12" fill="#f47a16" opacity="0.9" transform="rotate(124.42 742.98 983.89)"/><ellipse cx="862.6" cy="993.07" rx="1.86" ry="2.1" fill="#f47a16" opacity="0.93" transform="rotate(86.8 862.6 993.07)"/><ellipse cx="727.72" cy="997.74" rx="1.94" ry="2.02" fill="#f47a16" opacity="0.98" transform="rotate(132.66 727.72 997.74)"/><ellipse cx="875.35" cy="959.95" rx="3.03" ry="2.36" fill="#f47a16" opacity="0.92" transform="rotate(63.33 875.35 959.95)"/><ellipse cx="933.16" cy="981.35" rx="2.46" ry="2.24" fill="#f47a16" opacity="0.89" transform="rotate(155.43 933.16 981.35)"/><ellipse cx="835.77" cy="918.87" rx="2.71" ry="2.08" fill="#f47a16" opacity="0.91" transform="rotate(14.44 835.77 918.87)"/><ellipse cx="965.82" cy="982.46" rx="2.93" ry="1.88" fill="#f47a16" opacity="0.9" transform="rotate(132.31 965.82 982.46)"/><ellipse cx="770.65" cy="977.17" rx="1.95" ry="2.21" fill="#f47a16" opacity="0.9" transform="rotate(5.36 770.65 977.17)"/><ellipse cx="784.93" cy="899.43" rx="2.89" ry="1.98" fill="#f47a16" opacity="0.98" transform="rotate(110.61 784.93 899.43)"/><ellipse cx="721.41" cy="956.68" rx="2.13" ry="1.68" fill="#f47a16" opacity="0.91" transform="rotate(163.03 721.41 956.68)"/><ellipse cx="771.15" cy="983.99" rx="2.32" ry="2.13" fill="#f47a16" opacity="0.86" transform="rotate(35.73 771.15 983.99)"/><ellipse cx="899.68" cy="986.86" rx="3.17" ry="1.87" fill="#f47a16" opacity="0.83" transform="rotate(104.96 899.68 986.86)"/><ellipse cx="910.66" cy="978.49" rx="2.91" ry="2.39" fill="#f47a16" opacity="0.79" transform="rotate(49.82 910.66 978.49)"/><ellipse cx="774.23" cy="905.17" rx="2.15" ry="1.9" fill="#f47a16" opacity="0.87" transform="rotate(112.63 774.23 905.17)"/><ellipse cx="726.47" cy="977.26" rx="3.32" ry="1.93" fill="#f47a16" opacity="0.76" transform="rotate(13.44 726.47 977.26)"/><ellipse cx="923.28" cy="875.3" rx="2.9" ry="2.04" fill="#f47a16" opacity="0.95" transform="rotate(55.63 923.28 875.3)"/><ellipse cx="775.71" cy="873.16" rx="3.09" ry="1.74" fill="#f47a16" opacity="0.76" transform="rotate(25.36 775.71 873.16)"/><ellipse cx="837.26" cy="927.07" rx="2.78" ry="2.12" fill="#f47a16" opacity="0.99" transform="rotate(145.33 837.26 927.07)"/><ellipse cx="856.79" cy="895.48" rx="2.55" ry="1.68" fill="#f47a16" opacity="0.87" transform="rotate(1.94 856.79 895.48)"/><ellipse cx="867.26" cy="892.89" rx="2.24" ry="1.84" fill="#f47a16" opacity="0.88" transform="rotate(125.52 867.26 892.89)"/><ellipse cx="832.06" cy="966.66" rx="2.42" ry="2.24" fill="#f47a16" opacity="0.77" transform="rotate(163.12 832.06 966.66)"/><ellipse cx="944.38" cy="962.34" rx="2.02" ry="1.94" fill="#f47a16" opacity="0.98" transform="rotate(112.6 944.38 962.34)"/><ellipse cx="748.16" cy="942.71" rx="3.16" ry="2.25" fill="#f47a16" opacity="0.87" transform="rotate(169.97 748.16 942.71)"/><ellipse cx="845.08" cy="896.19" rx="2.92" ry="2.27" fill="#f47a16" opacity="0.93" transform="rotate(115.49 845.08 896.19)"/><ellipse cx="690.43" cy="985.04" rx="3.32" ry="2.41" fill="#f47a16" opacity="0.95" transform="rotate(96.65 690.43 985.04)"/><ellipse cx="728.24" cy="986.32" rx="3.13" ry="1.84" fill="#f47a16" opacity="0.86" transform="rotate(14.9 728.24 986.32)"/><ellipse cx="809.41" cy="968.2" rx="2.57" ry="1.55" fill="#f47a16" opacity="0.77" transform="rotate(145.65 809.41 968.2)"/><ellipse cx="897.52" cy="892.1" rx="2.34" ry="2.24" fill="#f47a16" opacity="0.79" transform="rotate(25.29 897.52 892.1)"/><ellipse cx="797.49" cy="962.49" rx="3.1" ry="2.15" fill="#f47a16" opacity="0.87" transform="rotate(170.23 797.49 962.49)"/><ellipse cx="950.22" cy="881" rx="2.16" ry="2" fill="#f47a16" opacity="0.93" transform="rotate(52.23 950.22 881)"/><ellipse cx="840.68" cy="936.83" rx="3.11" ry="2.03" fill="#f47a16" opacity="0.85" transform="rotate(56.11 840.68 936.83)"/><ellipse cx="913.54" cy="985.11" rx="2.14" ry="2.3" fill="#f47a16" opacity="0.88" transform="rotate(174.32 913.54 985.11)"/><ellipse cx="817.42" cy="895.69" rx="2.64" ry="1.98" fill="#f47a16" opacity="0.76" transform="rotate(108.94 817.42 895.69)"/><ellipse cx="957.37" cy="935.96" rx="2.44" ry="2.25" fill="#f47a16" opacity="0.87" transform="rotate(101.32 957.37 935.96)"/><ellipse cx="859.08" cy="878.42" rx="2.65" ry="1.9" fill="#f47a16" opacity="0.98" transform="rotate(172.24 859.08 878.42)"/><ellipse cx="903.11" cy="985.11" rx="2.55" ry="1.81" fill="#f47a16" opacity="0.9" transform="rotate(34.46 903.11 985.11)"/><ellipse cx="941.79" cy="886.55" rx="3.01" ry="1.54" fill="#f47a16" opacity="0.81" transform="rotate(34.94 941.79 886.55)"/><ellipse cx="857.68" cy="911.17" rx="2.37" ry="2.09" fill="#f47a16" opacity="0.93" transform="rotate(18.88 857.68 911.17)"/><ellipse cx="802.37" cy="925.83" rx="2.4" ry="1.9" fill="#f47a16" opacity="0.79" transform="rotate(95.28 802.37 925.83)"/><ellipse cx="840.54" cy="937.7" rx="3.12" ry="2.08" fill="#f47a16" opacity="0.81" transform="rotate(154.22 840.54 937.7)"/><ellipse cx="876.66" cy="973.6" rx="3.2" ry="1.81" fill="#f47a16" opacity="0.98" transform="rotate(56.7 876.66 973.6)"/><ellipse cx="692.14" cy="997.62" rx="3.18" ry="1.64" fill="#f47a16" opacity="0.93" transform="rotate(43.08 692.14 997.62)"/><ellipse cx="908.92" cy="923.9" rx="3.03" ry="1.64" fill="#f47a16" opacity="0.92" transform="rotate(72.5 908.92 923.9)"/><ellipse cx="856.04" cy="986.5" rx="3.3" ry="1.63" fill="#f47a16" opacity="0.94" transform="rotate(91.02 856.04 986.5)"/><ellipse cx="792.64" cy="957.65" rx="2.11" ry="1.59" fill="#f47a16" opacity="0.76" transform="rotate(19.11 792.64 957.65)"/><ellipse cx="809.89" cy="935.81" rx="2.69" ry="1.66" fill="#f47a16" opacity="0.8" transform="rotate(33.22 809.89 935.81)"/><ellipse cx="911.76" cy="996.59" rx="3.24" ry="1.61" fill="#f47a16" opacity="0.99" transform="rotate(11.15 911.76 996.59)"/><ellipse cx="778.26" cy="967.75" rx="2.32" ry="1.95" fill="#f47a16" opacity="0.86" transform="rotate(92.75 778.26 967.75)"/><ellipse cx="827.28" cy="871.69" rx="2.89" ry="2.29" fill="#f47a16" opacity="0.86" transform="rotate(32.63 827.28 871.69)"/><ellipse cx="876.15" cy="921.81" rx="2.12" ry="1.67" fill="#f47a16" opacity="0.75" transform="rotate(92.26 876.15 921.81)"/><ellipse cx="972.37" cy="830.77" rx="2.38" ry="2" fill="#f08418" opacity="0.74" transform="rotate(113.29 972.37 830.77)"/><ellipse cx="916.97" cy="771.94" rx="2.72" ry="1.95" fill="#f08418" opacity="0.92" transform="rotate(46.49 916.97 771.94)"/><ellipse cx="944.3" cy="826.08" rx="2.51" ry="1.59" fill="#f08418" opacity="0.91" transform="rotate(161.38 944.3 826.08)"/><ellipse cx="934.93" cy="823.96" rx="2.45" ry="1.59" fill="#f08418" opacity="0.62" transform="rotate(130.07 934.93 823.96)"/><ellipse cx="868.31" cy="764.92" rx="1.53" ry="1.54" fill="#f08418" opacity="0.82" transform="rotate(114.97 868.31 764.92)"/><ellipse cx="847.62" cy="859.06" rx="2.33" ry="1.53" fill="#f08418" opacity="0.8" transform="rotate(118.76 847.62 859.06)"/><ellipse cx="904.42" cy="749.25" rx="2.74" ry="1.8" fill="#f08418" opacity="0.87" transform="rotate(126.23 904.42 749.25)"/><ellipse cx="988.76" cy="676.69" rx="2.27" ry="1.89" fill="#f08418" opacity="0.74" transform="rotate(46.19 988.76 676.69)"/><ellipse cx="813.35" cy="710.84" rx="1.98" ry="1.31" fill="#f08418" opacity="0.92" transform="rotate(45.16 813.35 710.84)"/><ellipse cx="907.62" cy="772.63" rx="2.7" ry="1.74" fill="#f08418" opacity="0.82" transform="rotate(179.12 907.62 772.63)"/><ellipse cx="956.58" cy="687.25" rx="2.25" ry="1.91" fill="#f08418" opacity="0.93" transform="rotate(8.12 956.58 687.25)"/><ellipse cx="834" cy="765.5" rx="1.73" ry="1.67" fill="#f08418" opacity="0.62" transform="rotate(110.01 834 765.5)"/><ellipse cx="982.2" cy="755.4" rx="2.16" ry="1.76" fill="#f08418" opacity="0.7" transform="rotate(65.8 982.2 755.4)"/><ellipse cx="927.44" cy="783.08" rx="1.87" ry="1.87" fill="#f08418" opacity="0.6" transform="rotate(53.29 927.44 783.08)"/><ellipse cx="850.06" cy="680.64" rx="1.71" ry="1.91" fill="#f08418" opacity="0.91" transform="rotate(70.19 850.06 680.64)"/><ellipse cx="945.04" cy="682.1" rx="2.73" ry="2.08" fill="#f08418" opacity="0.92" transform="rotate(13.23 945.04 682.1)"/><ellipse cx="884.87" cy="766.66" rx="2.71" ry="1.44" fill="#f08418" opacity="0.93" transform="rotate(94.2 884.87 766.66)"/><ellipse cx="940.2" cy="764.83" rx="2.71" ry="1.96" fill="#f08418" opacity="0.64" transform="rotate(108.65 940.2 764.83)"/><ellipse cx="921.62" cy="762.32" rx="1.77" ry="1.26" fill="#f08418" opacity="0.64" transform="rotate(95.06 921.62 762.32)"/><ellipse cx="887.39" cy="804.3" rx="2.08" ry="1.46" fill="#f08418" opacity="0.75" transform="rotate(104.8 887.39 804.3)"/><ellipse cx="950.63" cy="777.17" rx="2.74" ry="2.09" fill="#f08418" opacity="0.68" transform="rotate(132.17 950.63 777.17)"/><ellipse cx="825.31" cy="848.77" rx="2.48" ry="1.79" fill="#f08418" opacity="0.7" transform="rotate(64.65 825.31 848.77)"/><ellipse cx="933.09" cy="783.92" rx="2.24" ry="1.8" fill="#f08418" opacity="0.67" transform="rotate(135.6 933.09 783.92)"/><ellipse cx="850.8" cy="865.99" rx="2.64" ry="2.02" fill="#f08418" opacity="0.62" transform="rotate(7.11 850.8 865.99)"/><ellipse cx="854.95" cy="756.29" rx="2.28" ry="1.31" fill="#f08418" opacity="0.63" transform="rotate(97.5 854.95 756.29)"/><ellipse cx="820.14" cy="805.96" rx="2.19" ry="1.79" fill="#f08418" opacity="0.77" transform="rotate(67.17 820.14 805.96)"/><ellipse cx="843.57" cy="740.17" rx="2.43" ry="1.98" fill="#f08418" opacity="0.64" transform="rotate(13.38 843.57 740.17)"/><ellipse cx="956.52" cy="795.56" rx="2.46" ry="1.41" fill="#f08418" opacity="0.69" transform="rotate(76.38 956.52 795.56)"/><ellipse cx="956.65" cy="745.16" rx="2.32" ry="2.12" fill="#f08418" opacity="0.79" transform="rotate(58.57 956.65 745.16)"/><ellipse cx="944.61" cy="854.34" rx="2.04" ry="1.55" fill="#f08418" opacity="0.91" transform="rotate(17.46 944.61 854.34)"/><ellipse cx="818.64" cy="688.6" rx="2.21" ry="1.66" fill="#f08418" opacity="0.7" transform="rotate(123.36 818.64 688.6)"/><ellipse cx="950.16" cy="687.22" rx="1.78" ry="1.82" fill="#f08418" opacity="0.71" transform="rotate(14.71 950.16 687.22)"/><ellipse cx="940.63" cy="809.46" rx="1.87" ry="1.35" fill="#f08418" opacity="0.85" transform="rotate(64.4 940.63 809.46)"/><ellipse cx="872.96" cy="695.4" rx="2.39" ry="1.74" fill="#f08418" opacity="0.93" transform="rotate(165.34 872.96 695.4)"/><ellipse cx="976.18" cy="758.82" rx="2.5" ry="1.5" fill="#f08418" opacity="0.74" transform="rotate(57.17 976.18 758.82)"/><ellipse cx="980.19" cy="849.17" rx="1.82" ry="1.55" fill="#f08418" opacity="0.73" transform="rotate(65.8 980.19 849.17)"/><ellipse cx="878.48" cy="748.85" rx="1.76" ry="1.73" fill="#f08418" opacity="0.79" transform="rotate(143.47 878.48 748.85)"/><ellipse cx="961.65" cy="783.51" rx="1.74" ry="1.91" fill="#f08418" opacity="0.7" transform="rotate(158.56 961.65 783.51)"/><ellipse cx="808.02" cy="774.18" rx="2.18" ry="1.74" fill="#f08418" opacity="0.83" transform="rotate(173.95 808.02 774.18)"/><ellipse cx="955.6" cy="684.85" rx="2.19" ry="1.94" fill="#f08418" opacity="0.63" transform="rotate(15.13 955.6 684.85)"/><ellipse cx="942.91" cy="850.03" rx="1.62" ry="1.8" fill="#f08418" opacity="0.86" transform="rotate(25.9 942.91 850.03)"/><ellipse cx="926.29" cy="720.73" rx="1.79" ry="1.92" fill="#f08418" opacity="0.87" transform="rotate(93.88 926.29 720.73)"/><ellipse cx="878.24" cy="739" rx="2.7" ry="1.83" fill="#f08418" opacity="0.79" transform="rotate(88.86 878.24 739)"/><ellipse cx="939.86" cy="812.26" rx="2.64" ry="1.59" fill="#f08418" opacity="0.83" transform="rotate(148.72 939.86 812.26)"/><ellipse cx="964.88" cy="831.6" rx="2.54" ry="2.03" fill="#f08418" opacity="0.82" transform="rotate(172.4 964.88 831.6)"/><ellipse cx="563.39" cy="839.57" rx="3.35" ry="2.13" fill="#f2601a" transform="rotate(94.29 563.39 839.57)"/><ellipse cx="558.83" cy="898.91" rx="3.35" ry="2.13" fill="#f2601a" transform="rotate(127.82 558.83 898.91)"/><ellipse cx="650.13" cy="720.87" rx="3.35" ry="2.13" fill="#f2601a" transform="rotate(144.41 650.13 720.87)"/><ellipse cx="564.91" cy="970.43" rx="3.35" ry="2.13" fill="#f2601a" transform="rotate(75.89 564.91 970.43)"/><ellipse cx="578.61" cy="999.35" rx="3.35" ry="2.13" fill="#f2601a" transform="rotate(75.68 578.61 999.35)"/><ellipse cx="561.87" cy="952.17" rx="3.35" ry="2.13" fill="#f2601a" transform="rotate(26.31 561.87 952.17)"/><ellipse cx="545.13" cy="953.7" rx="3.35" ry="2.13" fill="#f2601a" transform="rotate(133.42 545.13 953.7)"/><ellipse cx="746" cy="833.48" rx="3.35" ry="2.13" fill="#f2601a" transform="rotate(178.38 746 833.48)"/><ellipse cx="674.48" cy="873.04" rx="3.35" ry="2.13" fill="#f2601a" transform="rotate(67.59 674.48 873.04)"/><ellipse cx="618.17" cy="936.96" rx="3.35" ry="2.13" fill="#f2601a" transform="rotate(30.18 618.17 936.96)"/></g>
<path d="M63.6 523C63.6 523 288.53 523.83 314.7 523C340.87 522.17 325.3 517.35 325.3 514.7C325.3 512.05 315.91 500.76 314.7 496.5C313.49 492.24 311.68 477.58 313.2 472.1C314.72 466.62 326.41 447.78 329.9 441.7C333.39 435.62 344.45 417.99 348.1 411.3C351.75 404.61 363.66 381.5 366.4 374.8C369.14 368.1 372.15 348.87 375.5 344.3C378.85 339.73 394.42 333.05 399.9 329.1C405.38 325.15 424.22 308.45 430.3 304.8C436.38 301.15 454 295.04 460.7 292.6C467.4 290.16 490.27 283.96 497.3 280.4C504.33 276.84 526.93 260.14 531 257C535.07 253.86 538 249 538 249C538 249 538 136 538 136C538 136 531.55 130.04 530 128.8C528.45 127.56 524.24 124.9 522.5 123.6C520.76 122.3 514.58 116.89 512.6 115.8C510.62 114.71 504.92 113.56 502.7 112.7C500.48 111.84 492.87 108.09 490.4 107.2C487.93 106.31 480.35 104.48 478 103.8C475.65 103.12 469 101.54 466.9 100.4C464.8 99.26 459.35 93.34 457 92.4C454.65 91.46 446.86 92.3 443.4 91C439.94 89.7 425.74 81 422.4 79.4C419.06 77.8 413.71 75.56 410 75C406.29 74.44 388.9 74.85 385.3 73.8C381.7 72.75 376.97 66.18 374 64.5C371.03 62.82 360.1 57.75 355.6 57C351.1 56.25 331.9 55.81 329 57C326.1 58.19 327.28 66.54 326.6 68.9C325.92 71.26 323.38 78.44 322.2 80.6C321.02 82.76 316.52 88.66 314.8 90.5C313.08 92.34 307.75 96.75 305 99C302.25 101.25 291.51 110.07 287.3 113C283.09 115.93 268.08 125.1 262.9 128.3C257.72 131.5 240.79 141.03 235.5 145C230.21 148.97 213.77 163.96 210 168C206.23 172.04 201.3 180.8 197.8 185.4C194.3 190 179.45 207.82 175 214C170.55 220.18 157.6 240.3 153.3 247.2C149 254.1 136.21 275.58 132 283C127.79 290.42 115.3 314.3 111.2 321.4C107.1 328.5 94.7 347.82 91 354C87.3 360.18 76.79 377.7 74.2 383.2C71.61 388.7 66.16 404.98 65.1 409C64.04 413.02 63.75 412 63.6 423.4C63.45 434.8 63.6 523 63.6 523Z" fill="none" stroke="#fff" stroke-width="3.3" stroke-dasharray="3.5 9.3" stroke-linecap="round"/>
<path d="M571 100.87C573.59 95.54 590.33 81.54 596.87 78.04C603.41 74.54 625.48 67.09 636.43 65.87C647.39 64.65 697.61 66.78 706.43 65.87C715.26 64.96 711.91 57.87 724.7 56.74C737.48 55.61 822.39 54.76 834.26 54.61C846.13 54.46 840.35 52.42 843.39 55.22C846.43 58.02 858.91 78.04 864.7 82.61C870.48 87.17 895.74 96.61 901.22 100.87C906.7 105.13 915.52 120.65 919.48 125.22C923.43 129.78 935.91 142.26 940.78 146.52C945.65 150.78 963.3 163.26 968.17 167.83C973.04 172.39 985.22 186.7 989.48 192.17C993.74 197.65 1007.68 217.89 1010.78 222.61C1013.89 227.33 1019.46 237.28 1020.52 239.35C1021.59 241.42 1021.43 243.3 1021.43 243.3C1021.43 243.3 1021.43 518.43 1021.43 518.43C1021.43 518.43 887.52 518.43 887.52 518.43C887.52 518.43 887.52 458.48 887.52 458.48C887.52 458.48 879.76 441.89 876.87 435.65C873.98 429.41 862.26 403.39 858.61 396.09C854.96 388.78 844 369 840.35 362.61C836.7 356.22 825.74 337.65 822.09 332.17C818.43 326.7 808.09 312.39 803.83 307.83C799.57 303.26 784.35 291.09 779.48 286.52C774.61 281.96 760 266.74 755.13 262.17C750.26 257.61 735.04 244.22 730.78 240.87C726.52 237.52 715.57 230.16 712.52 228.7C709.48 227.23 705.83 226.5 700.35 226.26C694.87 226.02 664.13 227.84 657.74 226.26C651.35 224.68 641 214.15 636.43 210.43C631.87 206.72 616.96 193.39 612.09 189.13C607.22 184.87 591.7 171.17 587.74 167.83C583.78 164.48 574.2 159.3 572.52 155.65C570.85 152 571.15 136.78 571 131.3C570.85 125.83 568.41 106.2 571 100.87Z" fill="none" stroke="#fff" stroke-width="3.3" stroke-dasharray="3.5 9.3" stroke-linecap="round"/>
<path d="M109.26 565.65C113.22 565.65 134.37 579.96 141.22 583.91C148.07 587.87 171.65 601.26 177.74 605.22C183.83 609.17 197.22 619.22 202.09 623.48C206.96 627.74 221.57 642.65 226.43 647.83C231.3 653 245.91 670.04 250.78 675.22C255.65 680.39 270.26 694.7 275.13 699.57C280 704.43 294.61 718.43 299.48 723.91C304.35 729.39 318.96 748.87 323.83 754.35C328.7 759.83 343.3 773.83 348.17 778.7C353.04 783.57 367.65 798.48 372.52 803.04C377.39 807.61 392 819.78 396.87 824.35C401.74 828.91 416.96 843.83 421.22 848.7C425.48 853.57 436.43 868.17 439.48 873.04C442.52 877.91 449.22 892.52 451.65 897.39C454.09 902.26 461.09 916.87 463.83 921.74C466.57 926.61 476.61 941.83 479.04 946.09C481.48 950.35 488.17 964.35 488.17 964.35C488.17 964.35 488.17 998.43 488.17 998.43C488.17 998.43 199.04 998.43 199.04 998.43C199.04 998.43 186.57 992.41 183.83 991.13C181.09 989.85 175.61 986.26 171.65 985.65C167.7 985.04 148.07 986.87 144.26 985.04C140.46 983.22 135.59 971.9 133.61 967.39C131.63 962.89 126.15 945.48 124.48 940C122.8 934.52 118.39 918.09 116.87 912.61C115.35 907.13 110.11 893.43 109.26 885.22C108.41 877 109.57 837.43 108.35 830.43C107.13 823.43 98.61 818.26 97.09 815.22C95.57 812.17 93.53 820.7 93.13 800C92.73 779.3 92.28 629.87 93.13 608.26C93.98 586.65 100.04 588.17 101.65 583.91C103.27 579.65 105.3 565.65 109.26 565.65Z" fill="none" stroke="#fff" stroke-width="3.3" stroke-dasharray="3.5 9.3" stroke-linecap="round"/>
<path d="M989.48 529.13C992.52 530.8 997.24 549.83 998.61 556.52C999.98 563.22 1002.26 587.57 1003.17 596.09C1004.09 604.61 1006.83 633.52 1007.74 641.74C1008.65 649.96 1011.76 669.13 1012.3 678.26C1012.85 687.39 1013.37 723 1013.22 733.04C1013.07 743.09 1011.63 769.57 1010.78 778.7C1009.93 787.83 1005.91 816.74 1004.7 824.35C1003.48 831.96 999.67 848.7 998.61 854.78C997.54 860.87 994.8 879.43 994.04 885.22C993.28 891 992.07 908.35 991 912.61C989.93 916.87 985.37 924.17 983.39 927.83C981.41 931.48 973.96 944.87 971.22 949.13C968.48 953.39 959.35 966.78 956 970.43C952.65 974.09 941.39 983.07 937.74 985.65C934.09 988.24 922.83 994.48 919.48 996.3C916.13 998.13 904.26 1003.91 904.26 1003.91C904.26 1003.91 610.57 1003.91 610.57 1003.91C610.57 1003.91 609.96 981.09 610.57 976.52C611.17 971.96 614.98 961.91 616.65 958.26C618.33 954.61 624.72 943.35 627.3 940C629.89 936.65 638.87 928.13 642.52 924.78C646.17 921.43 659.26 910.48 663.83 906.52C668.39 902.57 683.91 889.48 688.17 885.22C692.43 880.96 702.78 868.17 706.43 863.91C710.09 859.65 720.74 847.17 724.7 842.61C728.65 838.04 742.04 823.13 746 818.26C749.96 813.39 760.61 799.09 764.26 793.91C767.91 788.74 779.17 771.39 782.52 766.52C785.87 761.65 795 749.48 797.74 745.22C800.48 740.96 807.17 728.48 809.91 723.91C812.65 719.35 822.09 704.74 825.13 699.57C828.17 694.39 837.61 677.35 840.35 672.17C843.09 667 850.09 651.78 852.52 647.83C854.96 643.87 862.26 636.26 864.7 632.61C867.13 628.96 873.83 615.57 876.87 611.3C879.91 607.04 891.17 594.26 895.13 590C899.09 585.74 911.87 572.35 916.43 568.7C921 565.04 935.61 556.37 940.78 553.48C945.96 550.59 963.3 542.22 968.17 539.78C973.04 537.35 986.43 527.46 989.48 529.13Z" fill="none" stroke="#fff" stroke-width="3.3" stroke-dasharray="3.5 9.3" stroke-linecap="round"/>
<rect x="541.4" y="46.6" width="1.3" height="961" fill="#c4c4c0"/>
<rect x="62.6" y="526.6" width="961.2" height="1.2" fill="#d8d8d0"/>
<text stroke="none" x="64.5" y="92.6" font-size="58" fill="#fff">a</text>
<text stroke="none" x="545" y="92.6" font-size="58" fill="#fff">b</text>
<text stroke="none" x="64.5" y="572.4" font-size="58" fill="#fff">c</text>
<text stroke="none" x="546" y="576.4" font-size="58" fill="#fff">d</text>
<text stroke="none" x="64.5" y="127.2" font-size="35" fill="#08ec40">VGAT</text>
<text stroke="none" x="167" y="127.2" font-size="35" fill="#ff1010">pERK</text>
<text stroke="none" x="96" y="206" font-size="35" fill="#fff">LV</text>
<text stroke="none" x="947" y="116" font-size="35" fill="#fff">LV</text>
<text stroke="none" x="66.5" y="953" font-size="35" fill="#fff">LV</text>
<text stroke="none" x="984" y="938.4" font-size="35" fill="#fff">LV</text>
<rect x="957.5" y="983.6" width="62.5" height="2" fill="#fff"/>
<text stroke="none" x="951.5" y="1002.6" font-size="21.5" fill="#fff">150<tspan font-family="'Liberation Serif','DejaVu Serif',serif" font-weight="normal" font-size="22">μ</tspan>m</text>
</g>
<g id="charts" stroke="#000">
<g stroke="none" id="panel-letters">
<text stroke="none" x="0" y="0" font-size="61" text-anchor="middle" transform="translate(46 252) rotate(-90)">dLS</text>
<text stroke="none" x="0" y="0" font-size="61" text-anchor="middle" transform="translate(44.8 733.5) rotate(-90)">vLS</text>
<text stroke="none" x="531" y="1110" font-size="61" text-anchor="middle">dLS</text>
<text stroke="none" x="1450" y="1110" font-size="61" text-anchor="middle">vLS</text>
<text stroke="none" x="1030.5" y="83" font-size="60">e</text>
<text stroke="none" x="1663" y="95.3" font-size="60">f</text>
<text stroke="none" x="1030.5" y="552" font-size="60">g</text>
<text stroke="none" x="1663.5" y="566.3" font-size="60">h</text>
<text stroke="none" x="19.5" y="1149" font-size="60">i</text>
<text stroke="none" x="713.5" y="1149" font-size="60">j</text>
<text stroke="none" x="1008.5" y="1149.4" font-size="60">k</text>
<text stroke="none" x="1739" y="1148.8" font-size="60">l</text>
</g>
<line x1="1179.2" y1="99" x2="1179.2" y2="257.6" stroke-width="1.7"/>
<line x1="1171.7" y1="99.8" x2="1179.2" y2="99.8" stroke-width="1.7"/>
<line x1="1171.7" y1="153.2" x2="1179.2" y2="153.2" stroke-width="1.7"/>
<line x1="1171.7" y1="206.2" x2="1179.2" y2="206.2" stroke-width="1.7"/>
<line x1="1172.2" y1="257" x2="1185.7" y2="257" stroke-width="1.7"/>
<line x1="1179.2" y1="276.6" x2="1179.2" y2="465.6" stroke-width="1.7"/>
<line x1="1171.7" y1="277.3" x2="1185.7" y2="277.3" stroke-width="1.7"/>
<line x1="1171.7" y1="324.3" x2="1179.2" y2="324.3" stroke-width="1.7"/>
<line x1="1171.7" y1="371.3" x2="1179.2" y2="371.3" stroke-width="1.7"/>
<line x1="1171.7" y1="418.3" x2="1179.2" y2="418.3" stroke-width="1.7"/>
<line x1="1171.7" y1="465.3" x2="1179.2" y2="465.3" stroke-width="1.7"/>
<line x1="1171.7" y1="465.5" x2="1679" y2="465.5" stroke-width="1.9"/>
<text stroke="none" x="0" y="0" font-size="31.4" text-anchor="end" transform="translate(1167.6 109.9) scale(0.91 1)">1500</text>
<text stroke="none" x="0" y="0" font-size="31.4" text-anchor="end" transform="translate(1167.6 163.3) scale(0.91 1)">1000</text>
<text stroke="none" x="0" y="0" font-size="31.4" text-anchor="end" transform="translate(1167.6 216.3) scale(0.91 1)">500</text>
<text stroke="none" x="0" y="0" font-size="31.4" text-anchor="end" transform="translate(1167.6 287.4) scale(0.91 1)">20</text>
<text stroke="none" x="0" y="0" font-size="31.4" text-anchor="end" transform="translate(1167.6 334.4) scale(0.91 1)">15</text>
<text stroke="none" x="0" y="0" font-size="31.4" text-anchor="end" transform="translate(1167.6 381.4) scale(0.91 1)">10</text>
<text stroke="none" x="0" y="0" font-size="31.4" text-anchor="end" transform="translate(1167.6 428.4) scale(0.91 1)">5</text>
<text stroke="none" x="0" y="0" font-size="31.4" text-anchor="end" transform="translate(1167.6 475.4) scale(0.91 1)">0</text>
<text stroke="none" x="0" y="0" font-size="29" text-anchor="middle" transform="translate(1083.5 278) rotate(-90)">Number of cells</text>
<rect x="1208.4" y="175.6" width="45.2" height="81.4" fill="#fff" stroke="none"/><path d="M1210.35 257V177.55H1251.65V257" fill="none" stroke-width="3.9" stroke-linejoin="round"/>
<path d="M1210.2 277.3V465.5M1251.8 277.3V465.5" fill="none" stroke-width="3.6"/>
<rect x="1206" y="257" width="50" height="20.3" fill="#fff" stroke="none"/>
<rect x="1270.4" y="188.4" width="45.6" height="68.6" fill="#000" stroke="none" rx="1.5"/>
<rect x="1270.4" y="277.3" width="45.6" height="188.2" fill="#000" stroke="none"/>
<rect x="1375" y="347.2" width="44.6" height="118.3" fill="#fff" stroke="none"/><path d="M1376.95 465.5V349.15H1417.65V465.5" fill="none" stroke-width="3.9" stroke-linejoin="round"/>
<rect x="1437.4" y="440.6" width="45" height="24.9" fill="#000" stroke="none" rx="1.5"/>
<rect x="1541.6" y="358.6" width="44.8" height="106.9" fill="#fff" stroke="none"/><path d="M1543.55 465.5V360.55H1584.45V465.5" fill="none" stroke-width="3.9" stroke-linejoin="round"/>
<rect x="1604" y="444.4" width="45" height="21.1" fill="#000" stroke="none" rx="1.5"/>
<line x1="1171.7" y1="465.5" x2="1679" y2="465.5" stroke-width="1.9"/>
<path d="M1221 160.9H1241M1231 160.9V177.6" fill="none" stroke-width="3.8"/>
<path d="M1284 182.5H1302M1293 182.5V190.4" fill="none" stroke-width="3.8"/>
<path d="M1387.4 331.1H1407.4M1397.4 331.1V349.2" fill="none" stroke-width="3.8"/>
<path d="M1449.8 432.9H1469.8M1459.8 432.9V442.6" fill="none" stroke-width="3.8"/>
<path d="M1554 341.5H1574M1564 341.5V360.6" fill="none" stroke-width="3.8"/>
<path d="M1616.6 436.9H1636.6M1626.6 436.9V446.4" fill="none" stroke-width="3.8"/>
<g fill="#fff" stroke-width="3.7"><circle cx="1231" cy="105.4" r="5.1"/><circle cx="1231" cy="155.6" r="5.1"/><circle cx="1243.6" cy="186.6" r="5.1"/><circle cx="1218" cy="196" r="5.1"/><circle cx="1231" cy="202.4" r="5.1"/><circle cx="1231" cy="218.6" r="5.1"/><circle cx="1397.6" cy="291.2" r="5.1"/><circle cx="1397.6" cy="318" r="5.1"/><circle cx="1389.4" cy="340.4" r="5.1"/><circle cx="1405.6" cy="342.6" r="5.1"/><circle cx="1405.6" cy="394" r="5.1"/><circle cx="1389.4" cy="409" r="5.1"/><circle cx="1564" cy="296" r="5.1"/><circle cx="1564" cy="322.2" r="5.1"/><circle cx="1564" cy="345.6" r="5.1"/><circle cx="1556" cy="386" r="5.1"/><circle cx="1572" cy="394.4" r="5.1"/><circle cx="1564" cy="419" r="5.1"/></g>
<g fill="#d2d2d2" stroke-width="3.7"><circle cx="1280.4" cy="169" r="5.1"/><circle cx="1293.6" cy="182" r="5.1"/><circle cx="1306.4" cy="181.6" r="5.1"/><circle cx="1293.6" cy="200" r="5.1"/><circle cx="1293.6" cy="221" r="5.1"/><circle cx="1452" cy="419.4" r="5.1"/><circle cx="1468.4" cy="419" r="5.1"/><circle cx="1460" cy="450" r="5.1"/><circle cx="1468" cy="458.6" r="5.1"/><circle cx="1452" cy="466.4" r="5.1"/><circle cx="1618.6" cy="419" r="5.1"/><circle cx="1634.6" cy="429.4" r="5.1"/><circle cx="1613.4" cy="454.4" r="5.1"/><circle cx="1639.4" cy="462.4" r="5.1"/><circle cx="1626.4" cy="466.4" r="5.1"/></g>
<text stroke="none" x="0" y="0" font-size="28.4" font-weight="normal" text-anchor="middle" transform="translate(1461.8 403) scale(1 1.09)">##</text>
<text stroke="none" x="0" y="0" font-size="28.4" font-weight="normal" text-anchor="middle" transform="translate(1631.6 408) scale(1 1.09)">##</text>
<rect x="1434.6" y="115.8" width="48.6" height="21.6" fill="#fff" stroke-width="3.2"/>
<rect x="1433" y="152" width="51.8" height="24.6" fill="#000" stroke="none"/>
<text stroke="none" x="1495" y="136.6" font-size="29.5">GH</text>
<text stroke="none" x="1495" y="174" font-size="29.5">IST</text>
<text stroke="none" x="1262" y="503" font-size="29.9" text-anchor="middle">VGAT</text>
<text stroke="none" x="1429.2" y="503" font-size="29.9" text-anchor="middle">pERK</text>
<text stroke="none" x="1596.2" y="503" font-size="29.9" text-anchor="middle">Co-localization</text>
<line x1="1760.6" y1="92.8" x2="1760.6" y2="464.9" stroke-width="1.5" stroke="#222"/>
<line x1="1755.1" y1="459.4" x2="1981.6" y2="459.4" stroke-width="1.5" stroke="#222"/>
<line x1="1755.1" y1="93.5" x2="1760.6" y2="93.5" stroke-width="1.5" stroke="#222"/>
<line x1="1755.1" y1="215.4" x2="1760.6" y2="215.4" stroke-width="1.5" stroke="#222"/>
<line x1="1755.1" y1="337.4" x2="1760.6" y2="337.4" stroke-width="1.5" stroke="#222"/>
<line x1="1815.7" y1="459.4" x2="1815.7" y2="464.9" stroke-width="1.5" stroke="#222"/>
<line x1="1870.8" y1="459.4" x2="1870.8" y2="464.9" stroke-width="1.5" stroke="#222"/>
<line x1="1925.9" y1="459.4" x2="1925.9" y2="464.9" stroke-width="1.5" stroke="#222"/>
<line x1="1981" y1="459.4" x2="1981" y2="464.9" stroke-width="1.5" stroke="#222"/>
<text stroke="none" x="0" y="0" font-size="32.4" text-anchor="end" transform="translate(1752.3 103.7) scale(0.93 1)">60</text>
<text stroke="none" x="0" y="0" font-size="32.4" text-anchor="end" transform="translate(1752.3 225.6) scale(0.93 1)">40</text>
<text stroke="none" x="0" y="0" font-size="32.4" text-anchor="end" transform="translate(1752.3 347.6) scale(0.93 1)">20</text>
<text stroke="none" x="0" y="0" font-size="32.4" text-anchor="end" transform="translate(1752.3 469.6) scale(0.93 1)">0</text>
<text stroke="none" x="0" y="0" font-size="31" text-anchor="middle" transform="translate(1815.7 495.3) scale(0.95 1)">5</text>
<text stroke="none" x="0" y="0" font-size="31" text-anchor="middle" transform="translate(1870.8 495.3) scale(0.95 1)">10</text>
<text stroke="none" x="0" y="0" font-size="31" text-anchor="middle" transform="translate(1925.9 495.3) scale(0.95 1)">15</text>
<text stroke="none" x="0" y="0" font-size="31" text-anchor="middle" transform="translate(1981 495.3) scale(0.95 1)">20</text>
<text stroke="none" x="1871.3" y="522.3" font-size="28" text-anchor="middle">pERK/VGAT</text>
<text stroke="none" x="0" y="0" font-size="30.5" text-anchor="middle" transform="translate(1705.5 267.5) rotate(-90)">Aggression (%)</text>
<line x1="1760.6" y1="238.5" x2="1956.7" y2="453.4" stroke-width="3.4"/>
<g fill="#000" stroke-width="1"><circle cx="1760.6" cy="125.8" r="7.7"/><circle cx="1765.4" cy="178.2" r="7.7"/><circle cx="1774.2" cy="272.2" r="7.7"/><circle cx="1815.9" cy="338.7" r="7.7"/><circle cx="1803.7" cy="391" r="7.7"/></g>
<g fill="#fff" stroke-width="2.7"><circle cx="1815.9" cy="317.7" r="6.7"/><circle cx="1854.7" cy="328.8" r="6.7"/><circle cx="1901.8" cy="386.8" r="6.7"/><circle cx="1958.9" cy="386.8" r="6.7"/><circle cx="1844.5" cy="398.2" r="6.7"/><circle cx="1928.3" cy="436.9" r="6.7"/></g>
<text stroke="none" x="0" y="0" font-size="24" font-weight="normal" transform="translate(1843.5 152.7) scale(1.05 1.02)">R= -0.7573</text>
<text stroke="none" x="0" y="0" font-size="24" font-weight="normal" transform="translate(1843.5 181) scale(1.05 1.02)">p= 0.007</text>
<line x1="1180.6" y1="562.4" x2="1180.6" y2="723.6" stroke-width="1.7"/>
<line x1="1173.1" y1="563" x2="1180.6" y2="563" stroke-width="1.7"/>
<line x1="1173.1" y1="596.2" x2="1180.6" y2="596.2" stroke-width="1.7"/>
<line x1="1173.1" y1="628.6" x2="1180.6" y2="628.6" stroke-width="1.7"/>
<line x1="1173.1" y1="661.2" x2="1180.6" y2="661.2" stroke-width="1.7"/>
<line x1="1173.1" y1="694" x2="1180.6" y2="694" stroke-width="1.7"/>
<line x1="1173.6" y1="723" x2="1187.1" y2="723" stroke-width="1.7"/>
<line x1="1180.6" y1="743" x2="1180.6" y2="937" stroke-width="1.7"/>
<line x1="1173.1" y1="743.6" x2="1187.1" y2="743.6" stroke-width="1.7"/>
<line x1="1173.1" y1="792" x2="1180.6" y2="792" stroke-width="1.7"/>
<line x1="1173.1" y1="840.4" x2="1180.6" y2="840.4" stroke-width="1.7"/>
<line x1="1173.1" y1="888.6" x2="1180.6" y2="888.6" stroke-width="1.7"/>
<line x1="1173.1" y1="936.8" x2="1180.6" y2="936.8" stroke-width="1.7"/>
<line x1="1173.1" y1="936.8" x2="1683" y2="936.8" stroke-width="1.9"/>
<text stroke="none" x="0" y="0" font-size="31.4" text-anchor="end" transform="translate(1168.6 573.1) scale(0.91 1)">1000</text>
<text stroke="none" x="0" y="0" font-size="31.4" text-anchor="end" transform="translate(1168.6 606.3) scale(0.91 1)">800</text>
<text stroke="none" x="0" y="0" font-size="31.4" text-anchor="end" transform="translate(1168.6 638.7) scale(0.91 1)">600</text>
<text stroke="none" x="0" y="0" font-size="31.4" text-anchor="end" transform="translate(1168.6 671.3) scale(0.91 1)">400</text>
<text stroke="none" x="0" y="0" font-size="31.4" text-anchor="end" transform="translate(1168.6 704.1) scale(0.91 1)">200</text>
<text stroke="none" x="0" y="0" font-size="31.4" text-anchor="end" transform="translate(1168.6 753.7) scale(0.91 1)">20</text>
<text stroke="none" x="0" y="0" font-size="31.4" text-anchor="end" transform="translate(1168.6 802.1) scale(0.91 1)">15</text>
<text stroke="none" x="0" y="0" font-size="31.4" text-anchor="end" transform="translate(1168.6 850.5) scale(0.91 1)">10</text>
<text stroke="none" x="0" y="0" font-size="31.4" text-anchor="end" transform="translate(1168.6 898.7) scale(0.91 1)">5</text>
<text stroke="none" x="0" y="0" font-size="31.4" text-anchor="end" transform="translate(1168.6 946.9) scale(0.91 1)">0</text>
<text stroke="none" x="0" y="0" font-size="29" text-anchor="middle" transform="translate(1085.5 744) rotate(-90)">Number of cells</text>
<rect x="1210" y="617" width="46.4" height="106" fill="#fff" stroke="none"/><path d="M1211.95 723V618.95H1254.45V723" fill="none" stroke-width="3.9" stroke-linejoin="round"/>
<path d="M1211.8 743.6V936.8M1254.6 743.6V936.8" fill="none" stroke-width="3.6"/>
<rect x="1208" y="723" width="50" height="20.6" fill="#fff" stroke="none"/>
<rect x="1274" y="637" width="46.4" height="86" fill="#000" stroke="none" rx="1.5"/>
<rect x="1274" y="743.6" width="46.4" height="193.2" fill="#000" stroke="none"/>
<rect x="1380.4" y="844.6" width="46" height="92.2" fill="#fff" stroke="none"/><path d="M1382.35 936.8V846.55H1424.45V936.8" fill="none" stroke-width="3.9" stroke-linejoin="round"/>
<rect x="1444" y="778.4" width="46" height="158.4" fill="#000" stroke="none" rx="1.5"/>
<rect x="1550.4" y="865.6" width="46" height="71.2" fill="#fff" stroke="none"/><path d="M1552.35 936.8V867.55H1594.45V936.8" fill="none" stroke-width="3.9" stroke-linejoin="round"/>
<rect x="1614" y="801.4" width="46" height="135.4" fill="#000" stroke="none" rx="1.5"/>
<line x1="1173.1" y1="936.8" x2="1683" y2="936.8" stroke-width="1.9"/>
<path d="M1223.2 612.5H1243.2M1233.2 612.5V619" fill="none" stroke-width="3.8"/>
<path d="M1287.2 628.9H1307.2M1297.2 628.9V639" fill="none" stroke-width="3.8"/>
<path d="M1393.2 830.1H1413.2M1403.2 830.1V846.6" fill="none" stroke-width="3.8"/>
<path d="M1457.2 755.5H1477.2M1467.2 755.5V780.4" fill="none" stroke-width="3.8"/>
<path d="M1563.4 850.1H1583.4M1573.4 850.1V867.6" fill="none" stroke-width="3.8"/>
<path d="M1626.8 784.1H1646.8M1636.8 784.1V803.4" fill="none" stroke-width="3.8"/>
<g fill="#fff" stroke-width="3.7"><circle cx="1241.6" cy="596.6" r="5.1"/><circle cx="1217" cy="607" r="5.1"/><circle cx="1225" cy="609.4" r="5.1"/><circle cx="1250" cy="623.4" r="5.1"/><circle cx="1241.6" cy="631.4" r="5.1"/><circle cx="1225" cy="647.4" r="5.1"/><circle cx="1403.4" cy="787.4" r="5.1"/><circle cx="1403.4" cy="817.4" r="5.1"/><circle cx="1403.4" cy="838" r="5.1"/><circle cx="1395.2" cy="866.4" r="5.1"/><circle cx="1411.6" cy="876.4" r="5.1"/><circle cx="1403.4" cy="893.4" r="5.1"/><circle cx="1573.6" cy="797" r="5.1"/><circle cx="1573.6" cy="833.6" r="5.1"/><circle cx="1560" cy="888.4" r="5.1"/><circle cx="1573.6" cy="885" r="5.1"/><circle cx="1587" cy="898.4" r="5.1"/><circle cx="1573.6" cy="902.4" r="5.1"/></g>
<g fill="#d2d2d2" stroke-width="3.7"><circle cx="1305.4" cy="615.6" r="5.1"/><circle cx="1281" cy="625.4" r="5.1"/><circle cx="1289" cy="632.4" r="5.1"/><circle cx="1305.4" cy="643.4" r="5.1"/><circle cx="1297" cy="677" r="5.1"/><circle cx="1459" cy="723" r="5.1"/><circle cx="1475.6" cy="722.6" r="5.1"/><circle cx="1467" cy="779.4" r="5.1"/><circle cx="1459" cy="838.4" r="5.1"/><circle cx="1475.6" cy="836.4" r="5.1"/><circle cx="1637" cy="743.6" r="5.1"/><circle cx="1629" cy="789.4" r="5.1"/><circle cx="1645.4" cy="795" r="5.1"/><circle cx="1645.4" cy="839" r="5.1"/><circle cx="1629" cy="848.4" r="5.1"/></g>
<text stroke="none" x="0" y="0" font-size="28.4" font-weight="normal" text-anchor="middle" transform="translate(1638.5 729) scale(1 1.09)">#</text>
<text stroke="none" x="1457" y="695.5" font-size="25" text-anchor="middle">p=0.07</text>
<rect x="1434.6" y="606.8" width="48.6" height="21.6" fill="#fff" stroke-width="3.2"/>
<rect x="1433" y="643" width="51.8" height="24.6" fill="#000" stroke="none"/>
<text stroke="none" x="1495" y="627.6" font-size="29.5">GH</text>
<text stroke="none" x="1495" y="665" font-size="29.5">IST</text>
<text stroke="none" x="1265.5" y="973.8" font-size="29.9" text-anchor="middle">VGAT</text>
<text stroke="none" x="1435.3" y="973.8" font-size="29.9" text-anchor="middle">pERK</text>
<text stroke="none" x="1605" y="973.8" font-size="29.9" text-anchor="middle">Co-localization</text>
<line x1="1763.4" y1="575.8" x2="1763.4" y2="937.6" stroke-width="1.5" stroke="#222"/>
<line x1="1757.9" y1="932.1" x2="1977.6" y2="932.1" stroke-width="1.5" stroke="#222"/>
<line x1="1757.9" y1="576.5" x2="1763.4" y2="576.5" stroke-width="1.5" stroke="#222"/>
<line x1="1757.9" y1="694.9" x2="1763.4" y2="694.9" stroke-width="1.5" stroke="#222"/>
<line x1="1757.9" y1="813.6" x2="1763.4" y2="813.6" stroke-width="1.5" stroke="#222"/>
<line x1="1806.1" y1="932.1" x2="1806.1" y2="937.6" stroke-width="1.5" stroke="#222"/>
<line x1="1848.8" y1="932.1" x2="1848.8" y2="937.6" stroke-width="1.5" stroke="#222"/>
<line x1="1891.5" y1="932.1" x2="1891.5" y2="937.6" stroke-width="1.5" stroke="#222"/>
<line x1="1934.2" y1="932.1" x2="1934.2" y2="937.6" stroke-width="1.5" stroke="#222"/>
<line x1="1977" y1="932.1" x2="1977" y2="937.6" stroke-width="1.5" stroke="#222"/>
<text stroke="none" x="0" y="0" font-size="32.4" text-anchor="end" transform="translate(1755.3 586.7) scale(0.93 1)">60</text>
<text stroke="none" x="0" y="0" font-size="32.4" text-anchor="end" transform="translate(1755.3 705.1) scale(0.93 1)">40</text>
<text stroke="none" x="0" y="0" font-size="32.4" text-anchor="end" transform="translate(1755.3 823.8) scale(0.93 1)">20</text>
<text stroke="none" x="0" y="0" font-size="32.4" text-anchor="end" transform="translate(1755.3 942.3) scale(0.93 1)">0</text>
<text stroke="none" x="0" y="0" font-size="31" text-anchor="middle" transform="translate(1763.4 966.3) scale(0.95 1)">0</text>
<text stroke="none" x="0" y="0" font-size="31" text-anchor="middle" transform="translate(1806.1 966.3) scale(0.95 1)">5</text>
<text stroke="none" x="0" y="0" font-size="31" text-anchor="middle" transform="translate(1848.8 966.3) scale(0.95 1)">10</text>
<text stroke="none" x="0" y="0" font-size="31" text-anchor="middle" transform="translate(1891.5 966.3) scale(0.95 1)">15</text>
<text stroke="none" x="0" y="0" font-size="31" text-anchor="middle" transform="translate(1934.2 966.3) scale(0.95 1)">20</text>
<text stroke="none" x="0" y="0" font-size="31" text-anchor="middle" transform="translate(1977 966.3) scale(0.95 1)">25</text>
<text stroke="none" x="1870.5" y="990" font-size="28" text-anchor="middle">pERK/VGAT</text>
<text stroke="none" x="0" y="0" font-size="30.5" text-anchor="middle" transform="translate(1705.5 739.5) rotate(-90)">Aggression (%)</text>
<line x1="1794.6" y1="856.3" x2="1934.4" y2="716.6" stroke-width="3.4"/>
<g fill="#000" stroke-width="1"><circle cx="1850.3" cy="608.3" r="7.7"/><circle cx="1893.6" cy="659.4" r="7.7"/><circle cx="1934" cy="750.3" r="7.7"/><circle cx="1888.6" cy="815.2" r="7.7"/><circle cx="1841.6" cy="865.6" r="7.7"/></g>
<g fill="#fff" stroke-width="2.7"><circle cx="1797.7" cy="794.5" r="6.7"/><circle cx="1886.8" cy="805.3" r="6.7"/><circle cx="1806" cy="861.6" r="6.7"/><circle cx="1808.5" cy="872.7" r="6.7"/><circle cx="1854.6" cy="861.6" r="6.7"/><circle cx="1794" cy="910.1" r="6.7"/></g>
<g fill="#000" stroke-width="1"><circle cx="1888.6" cy="815.2" r="7.7"/></g>
<text stroke="none" x="0" y="0" font-size="24" font-weight="normal" transform="translate(1866.7 595.7) scale(1.03 1.02)">R= 0.4915</text>
<text stroke="none" x="0" y="0" font-size="24" font-weight="normal" transform="translate(1866.7 623.5) scale(1.03 1.02)">p= 0.1247</text>
<line x1="74.4" y1="1143.6" x2="74.4" y2="1570.4" stroke-width="1.5" stroke="#222"/>
<line x1="67.9" y1="1569.6" x2="74.4" y2="1569.6" stroke-width="1.5" stroke="#222"/>
<text stroke="none" x="0" y="0" font-size="30.6" text-anchor="end" transform="translate(64.3 1578.6) scale(0.9 1)">0</text>
<line x1="67.9" y1="1484.54" x2="74.4" y2="1484.54" stroke-width="1.5" stroke="#222"/>
<text stroke="none" x="0" y="0" font-size="30.6" text-anchor="end" transform="translate(64.3 1493.54) scale(0.9 1)">10</text>
<line x1="67.9" y1="1399.48" x2="74.4" y2="1399.48" stroke-width="1.5" stroke="#222"/>
<text stroke="none" x="0" y="0" font-size="30.6" text-anchor="end" transform="translate(64.3 1408.48) scale(0.9 1)">20</text>
<line x1="67.9" y1="1314.42" x2="74.4" y2="1314.42" stroke-width="1.5" stroke="#222"/>
<text stroke="none" x="0" y="0" font-size="30.6" text-anchor="end" transform="translate(64.3 1323.42) scale(0.9 1)">30</text>
<line x1="67.9" y1="1229.36" x2="74.4" y2="1229.36" stroke-width="1.5" stroke="#222"/>
<text stroke="none" x="0" y="0" font-size="30.6" text-anchor="end" transform="translate(64.3 1238.36) scale(0.9 1)">40</text>
<line x1="67.9" y1="1144.3" x2="74.4" y2="1144.3" stroke-width="1.5" stroke="#222"/>
<text stroke="none" x="0" y="0" font-size="30.6" text-anchor="end" transform="translate(64.3 1153.3) scale(0.9 1)">50</text>
<text stroke="none" x="0" y="0" font-size="31" text-anchor="middle" transform="translate(33.1 1350.3) rotate(-90) scale(1.04 1)">Time (%)</text>
<rect x="103" y="1436.6" width="42.4" height="133" fill="#fff" stroke="none"/><path d="M104.75 1569.6V1438.35H143.65V1569.6" fill="none" stroke-width="3.5" stroke-linejoin="round"/>
<rect x="162.4" y="1331.4" width="42.6" height="238.2" fill="#b583c6" stroke="none"/><path d="M164.15 1569.6V1333.15H203.25V1569.6" fill="none" stroke-width="3.5" stroke-linejoin="round"/>
<rect x="262.6" y="1528.4" width="42.4" height="41.2" fill="#fff" stroke="none"/><path d="M264.35 1569.6V1530.15H303.25V1569.6" fill="none" stroke-width="3.5" stroke-linejoin="round"/>
<rect x="322" y="1508.6" width="42.6" height="61" fill="#b583c6" stroke="none"/><path d="M323.75 1569.6V1510.35H362.85V1569.6" fill="none" stroke-width="3.5" stroke-linejoin="round"/>
<rect x="421.4" y="1532.4" width="42.6" height="37.2" fill="#fff" stroke="none"/><path d="M423.15 1569.6V1534.15H462.25V1569.6" fill="none" stroke-width="3.5" stroke-linejoin="round"/>
<rect x="481" y="1453" width="42.6" height="116.6" fill="#b583c6" stroke="none"/><path d="M482.75 1569.6V1454.75H521.85V1569.6" fill="none" stroke-width="3.5" stroke-linejoin="round"/>
<rect x="580.6" y="1512.6" width="42.8" height="57" fill="#fff" stroke="none"/><path d="M582.35 1569.6V1514.35H621.65V1569.6" fill="none" stroke-width="3.5" stroke-linejoin="round"/>
<rect x="640.4" y="1510" width="43" height="59.6" fill="#b583c6" stroke="none"/><path d="M642.15 1569.6V1511.75H681.65V1569.6" fill="none" stroke-width="3.5" stroke-linejoin="round"/>
<line x1="67.9" y1="1569.6" x2="713" y2="1569.6" stroke-width="1.6" stroke="#222"/>
<path d="M114.4 1405.1H134M124.2 1405.1V1438.6" fill="none" stroke-width="3"/>
<path d="M174 1306.7H193.6M183.8 1306.7V1333.4" fill="none" stroke-width="3"/>
<path d="M274 1517.1H293.6M283.8 1517.1V1530.4" fill="none" stroke-width="3"/>
<path d="M333.4 1487.1H353M343.2 1487.1V1510.6" fill="none" stroke-width="3"/>
<path d="M433.2 1513.1H452.8M443 1513.1V1534.4" fill="none" stroke-width="3"/>
<path d="M492.8 1436.1H512.4M502.6 1436.1V1455" fill="none" stroke-width="3"/>
<path d="M592.4 1494.1H612M602.2 1494.1V1514.6" fill="none" stroke-width="3"/>
<path d="M652.2 1505.1H671.8M662 1505.1V1512" fill="none" stroke-width="3"/>
<g fill="#fff" stroke-width="3"><circle cx="124.2" cy="1277.2" r="4.1"/><circle cx="124.2" cy="1369.4" r="4.1"/><circle cx="124.2" cy="1457.4" r="4.1"/><circle cx="131.2" cy="1463" r="4.1"/><circle cx="117.2" cy="1476.6" r="4.1"/><circle cx="124.2" cy="1490.4" r="4.1"/><circle cx="124.2" cy="1531.4" r="4.1"/><circle cx="283.6" cy="1490.4" r="4.1"/><circle cx="276.6" cy="1494.4" r="4.1"/><circle cx="290.4" cy="1506" r="4.1"/><circle cx="283.6" cy="1532.4" r="4.1"/><circle cx="283.6" cy="1551" r="4.1"/><circle cx="290.4" cy="1566" r="4.1"/><circle cx="276.6" cy="1570" r="4.1"/><circle cx="443" cy="1415.4" r="4.1"/><circle cx="443" cy="1532" r="4.1"/><circle cx="429.6" cy="1553" r="4.1"/><circle cx="443" cy="1553" r="4.1"/><circle cx="456.6" cy="1550.6" r="4.1"/><circle cx="450" cy="1563.6" r="4.1"/><circle cx="436.4" cy="1568.6" r="4.1"/><circle cx="602.4" cy="1404.6" r="4.1"/><circle cx="589" cy="1510.6" r="4.1"/><circle cx="602.4" cy="1519" r="4.1"/><circle cx="615.6" cy="1518" r="4.1"/><circle cx="602.4" cy="1533.6" r="4.1"/><circle cx="609" cy="1550.4" r="4.1"/><circle cx="595.4" cy="1560.4" r="4.1"/></g>
<g fill="#e88cf4" stroke-width="3"><circle cx="184" cy="1228.4" r="4.1"/><circle cx="190.6" cy="1275" r="4.1"/><circle cx="177" cy="1280.6" r="4.1"/><circle cx="177" cy="1374.6" r="4.1"/><circle cx="190.6" cy="1374.6" r="4.1"/><circle cx="190.6" cy="1395.4" r="4.1"/><circle cx="177" cy="1401" r="4.1"/><circle cx="343.6" cy="1391.4" r="4.1"/><circle cx="343.6" cy="1487.4" r="4.1"/><circle cx="350.4" cy="1504" r="4.1"/><circle cx="336.6" cy="1510" r="4.1"/><circle cx="343.6" cy="1548.4" r="4.1"/><circle cx="350.4" cy="1561.4" r="4.1"/><circle cx="336.6" cy="1569.6" r="4.1"/><circle cx="502.6" cy="1381.4" r="4.1"/><circle cx="502.6" cy="1413.6" r="4.1"/><circle cx="489.6" cy="1448.6" r="4.1"/><circle cx="502.6" cy="1457.4" r="4.1"/><circle cx="516" cy="1456" r="4.1"/><circle cx="502.6" cy="1496.4" r="4.1"/><circle cx="502.6" cy="1525" r="4.1"/><circle cx="648.6" cy="1494" r="4.1"/><circle cx="669.6" cy="1491" r="4.1"/><circle cx="655.6" cy="1504" r="4.1"/><circle cx="668.6" cy="1514" r="4.1"/><circle cx="648.6" cy="1521.6" r="4.1"/><circle cx="675.6" cy="1523" r="4.1"/><circle cx="662" cy="1534.6" r="4.1"/></g>
<text stroke="none" x="184.4" y="1240.7" font-size="55" font-weight="normal" text-anchor="middle">*</text>
<text stroke="none" x="503.4" y="1389.7" font-size="55" font-weight="normal" text-anchor="middle">*</text>
<text stroke="none" x="154" y="1603.2" font-size="28.3" text-anchor="middle">Aggression</text>
<text stroke="none" x="313.5" y="1603.2" font-size="28.3" text-anchor="middle">Keep Down</text>
<text stroke="none" x="473.3" y="1603.2" font-size="28.3" text-anchor="middle">Threat</text>
<text stroke="none" x="631.5" y="1603.2" font-size="28.3" text-anchor="middle">Off. Grooming</text>
<rect x="337.1" y="1195.5" width="47.6" height="21.6" fill="#fff" stroke-width="3"/>
<rect x="337.1" y="1233" width="47.6" height="21.6" fill="#c38ce6" stroke-width="3"/>
<text stroke="none" x="396.8" y="1217.6" font-size="30.6">Vehicle</text>
<text stroke="none" x="396.8" y="1255" font-size="30.6">Muscimol 10ng</text>

<line x1="814.5" y1="1159.7" x2="814.5" y2="1570.2" stroke-width="1.5" stroke="#222"/>
<line x1="807.5" y1="1569.4" x2="814.5" y2="1569.4" stroke-width="1.5" stroke="#222"/>
<text stroke="none" x="0" y="0" font-size="29.8" text-anchor="end" transform="translate(803.8 1579.3) scale(0.96 1)">0</text>
<line x1="807.5" y1="1467.15" x2="814.5" y2="1467.15" stroke-width="1.5" stroke="#222"/>
<text stroke="none" x="0" y="0" font-size="29.8" text-anchor="end" transform="translate(803.8 1477.05) scale(0.96 1)">20</text>
<line x1="807.5" y1="1364.9" x2="814.5" y2="1364.9" stroke-width="1.5" stroke="#222"/>
<text stroke="none" x="0" y="0" font-size="29.8" text-anchor="end" transform="translate(803.8 1374.8) scale(0.96 1)">40</text>
<line x1="807.5" y1="1262.65" x2="814.5" y2="1262.65" stroke-width="1.5" stroke="#222"/>
<text stroke="none" x="0" y="0" font-size="29.8" text-anchor="end" transform="translate(803.8 1272.55) scale(0.96 1)">60</text>
<line x1="807.5" y1="1160.4" x2="814.5" y2="1160.4" stroke-width="1.5" stroke="#222"/>
<text stroke="none" x="0" y="0" font-size="29.8" text-anchor="end" transform="translate(803.8 1170.3) scale(0.96 1)">80</text>
<rect x="823" y="1496.4" width="37.8" height="73" fill="#fff" stroke="none"/><path d="M824.25 1569.4V1497.65H859.55V1569.4" fill="none" stroke-width="2.5" stroke-linejoin="round"/>
<rect x="877.4" y="1205.5" width="37.8" height="363.9" fill="#b583c6" stroke="none"/><path d="M878.65 1569.4V1206.75H913.95V1569.4" fill="none" stroke-width="2.5" stroke-linejoin="round"/>
<line x1="807" y1="1569.4" x2="924.4" y2="1569.4" stroke-width="1.6" stroke="#222"/>
<text stroke="none" x="895.3" y="1208.7" font-size="56" font-weight="normal" text-anchor="middle">***</text>
<text x="0" y="0" font-size="33.2" text-anchor="middle" transform="translate(766 1355.4) rotate(-90) scale(0.89 1)" stroke="#fff" stroke-width="0.45">Rats showing attacks (%)</text>
<line x1="1087" y1="1143.6" x2="1087" y2="1571.1" stroke-width="1.5" stroke="#222"/>
<line x1="1080.5" y1="1570.3" x2="1087" y2="1570.3" stroke-width="1.5" stroke="#222"/>
<text stroke="none" x="0" y="0" font-size="30.6" text-anchor="end" transform="translate(1078 1579.3) scale(0.9 1)">0</text>
<line x1="1080.5" y1="1485.24" x2="1087" y2="1485.24" stroke-width="1.5" stroke="#222"/>
<text stroke="none" x="0" y="0" font-size="30.6" text-anchor="end" transform="translate(1078 1494.24) scale(0.9 1)">10</text>
<line x1="1080.5" y1="1400.18" x2="1087" y2="1400.18" stroke-width="1.5" stroke="#222"/>
<text stroke="none" x="0" y="0" font-size="30.6" text-anchor="end" transform="translate(1078 1409.18) scale(0.9 1)">20</text>
<line x1="1080.5" y1="1315.12" x2="1087" y2="1315.12" stroke-width="1.5" stroke="#222"/>
<text stroke="none" x="0" y="0" font-size="30.6" text-anchor="end" transform="translate(1078 1324.12) scale(0.9 1)">30</text>
<line x1="1080.5" y1="1230.06" x2="1087" y2="1230.06" stroke-width="1.5" stroke="#222"/>
<text stroke="none" x="0" y="0" font-size="30.6" text-anchor="end" transform="translate(1078 1239.06) scale(0.9 1)">40</text>
<line x1="1080.5" y1="1145" x2="1087" y2="1145" stroke-width="1.5" stroke="#222"/>
<text stroke="none" x="0" y="0" font-size="30.6" text-anchor="end" transform="translate(1078 1154) scale(0.9 1)">50</text>
<text stroke="none" x="0" y="0" font-size="31" text-anchor="middle" transform="translate(1045.6 1350.3) rotate(-90) scale(1.04 1)">Time (%)</text>
<rect x="1115.7" y="1338.2" width="42.6" height="232.1" fill="#fff" stroke="none"/><path d="M1117.45 1570.3V1339.95H1156.55V1570.3" fill="none" stroke-width="3.5" stroke-linejoin="round"/>
<rect x="1175.2" y="1455.6" width="42.8" height="114.7" fill="#b583c6" stroke="none"/><path d="M1176.95 1570.3V1457.35H1216.25V1570.3" fill="none" stroke-width="3.5" stroke-linejoin="round"/>
<rect x="1275.6" y="1554" width="42.6" height="16.3" fill="#fff" stroke="none"/><path d="M1277.35 1570.3V1555.75H1316.45V1570.3" fill="none" stroke-width="3.5" stroke-linejoin="round"/>
<rect x="1335" y="1554" width="43" height="16.3" fill="#b583c6" stroke="none"/><path d="M1336.75 1570.3V1555.75H1376.25V1570.3" fill="none" stroke-width="3.5" stroke-linejoin="round"/>
<rect x="1434.4" y="1487" width="42.6" height="83.3" fill="#fff" stroke="none"/><path d="M1436.15 1570.3V1488.75H1475.25V1570.3" fill="none" stroke-width="3.5" stroke-linejoin="round"/>
<rect x="1494.4" y="1515" width="42.2" height="55.3" fill="#b583c6" stroke="none"/><path d="M1496.15 1570.3V1516.75H1534.85V1570.3" fill="none" stroke-width="3.5" stroke-linejoin="round"/>
<rect x="1593.6" y="1458" width="42.4" height="112.3" fill="#fff" stroke="none"/><path d="M1595.35 1570.3V1459.75H1634.25V1570.3" fill="none" stroke-width="3.5" stroke-linejoin="round"/>
<rect x="1654" y="1526" width="42" height="44.3" fill="#b583c6" stroke="none"/><path d="M1655.75 1570.3V1527.75H1694.25V1570.3" fill="none" stroke-width="3.5" stroke-linejoin="round"/>
<line x1="1080.5" y1="1570.3" x2="1725.6" y2="1570.3" stroke-width="1.6" stroke="#222"/>
<path d="M1127.4 1304.1H1147M1137.2 1304.1V1340.2" fill="none" stroke-width="3"/>
<path d="M1186.8 1439.1H1206.4M1196.6 1439.1V1457.6" fill="none" stroke-width="3"/>
<path d="M1286.8 1545.1H1306.4M1296.6 1545.1V1556" fill="none" stroke-width="3"/>
<path d="M1346.4 1545.5H1366M1356.2 1545.5V1556" fill="none" stroke-width="3"/>
<path d="M1446 1476.1H1465.6M1455.8 1476.1V1489" fill="none" stroke-width="3"/>
<path d="M1505.7 1505.5H1525.3M1515.5 1505.5V1517" fill="none" stroke-width="3"/>
<path d="M1605.2 1413.5H1624.8M1615 1413.5V1460" fill="none" stroke-width="3"/>
<path d="M1665.2 1517.1H1684.8M1675 1517.1V1528" fill="none" stroke-width="3"/>
<g fill="#fff" stroke-width="3"><circle cx="1137.2" cy="1160.8" r="4.1"/><circle cx="1137.2" cy="1297.3" r="4.1"/><circle cx="1137.2" cy="1341.4" r="4.1"/><circle cx="1137.2" cy="1360.6" r="4.1"/><circle cx="1130.1" cy="1380.4" r="4.1"/><circle cx="1144.2" cy="1380.4" r="4.1"/><circle cx="1137.2" cy="1454.3" r="4.1"/><circle cx="1296.7" cy="1510.2" r="4.1"/><circle cx="1296.7" cy="1526.2" r="4.1"/><circle cx="1282.3" cy="1567.8" r="4.1"/><circle cx="1289.4" cy="1570.7" r="4.1"/><circle cx="1296.7" cy="1570.7" r="4.1"/><circle cx="1303.8" cy="1570.7" r="4.1"/><circle cx="1310.2" cy="1570.7" r="4.1"/><circle cx="1462.6" cy="1446" r="4.1"/><circle cx="1449" cy="1456.6" r="4.1"/><circle cx="1449" cy="1477" r="4.1"/><circle cx="1462.6" cy="1486" r="4.1"/><circle cx="1442.6" cy="1512.6" r="4.1"/><circle cx="1469" cy="1514" r="4.1"/><circle cx="1455.6" cy="1523" r="4.1"/><circle cx="1615" cy="1425.4" r="4.1"/><circle cx="1608.4" cy="1467.4" r="4.1"/><circle cx="1622" cy="1472.4" r="4.1"/><circle cx="1615" cy="1510.4" r="4.1"/><circle cx="1615" cy="1556.4" r="4.1"/><circle cx="1615" cy="1570.4" r="4.1"/></g>
<g fill="#e88cf4" stroke-width="3"><circle cx="1190" cy="1389.4" r="4.1"/><circle cx="1203.7" cy="1401.2" r="4.1"/><circle cx="1196.6" cy="1442.1" r="4.1"/><circle cx="1190" cy="1451.7" r="4.1"/><circle cx="1203.7" cy="1455.9" r="4.1"/><circle cx="1196.6" cy="1484.7" r="4.1"/><circle cx="1196.6" cy="1499.7" r="4.1"/><circle cx="1196.6" cy="1523" r="4.1"/><circle cx="1356.5" cy="1495.2" r="4.1"/><circle cx="1356.5" cy="1542.2" r="4.1"/><circle cx="1356.5" cy="1556.6" r="4.1"/><circle cx="1342.8" cy="1570.7" r="4.1"/><circle cx="1349.5" cy="1570.7" r="4.1"/><circle cx="1356.5" cy="1570.7" r="4.1"/><circle cx="1363.5" cy="1570.7" r="4.1"/><circle cx="1370" cy="1570.7" r="4.1"/><circle cx="1515.4" cy="1460.6" r="4.1"/><circle cx="1515.4" cy="1487.6" r="4.1"/><circle cx="1515.4" cy="1513.6" r="4.1"/><circle cx="1502.4" cy="1524" r="4.1"/><circle cx="1528.6" cy="1521.4" r="4.1"/><circle cx="1515.4" cy="1529.4" r="4.1"/><circle cx="1522.4" cy="1542.6" r="4.1"/><circle cx="1508.6" cy="1548.6" r="4.1"/><circle cx="1675" cy="1480.4" r="4.1"/><circle cx="1681.6" cy="1516" r="4.1"/><circle cx="1668" cy="1521.6" r="4.1"/><circle cx="1659.6" cy="1525.6" r="4.1"/><circle cx="1690" cy="1527.6" r="4.1"/><circle cx="1669.6" cy="1534.4" r="4.1"/><circle cx="1680" cy="1538" r="4.1"/><circle cx="1675" cy="1564" r="4.1"/></g>
<text stroke="none" x="1201" y="1391.2" font-size="55" font-weight="normal" text-anchor="middle">**</text>
<text stroke="none" x="1167" y="1603.2" font-size="28.3" text-anchor="middle">Aggression</text>
<text stroke="none" x="1326.7" y="1603.2" font-size="28.3" text-anchor="middle">Keep Down</text>
<text stroke="none" x="1486.3" y="1603.2" font-size="28.3" text-anchor="middle">Threat</text>
<text stroke="none" x="1644.5" y="1603.2" font-size="28.3" text-anchor="middle">Off. Grooming</text>
<rect x="1236.5" y="1195.5" width="47.6" height="21.6" fill="#fff" stroke-width="3"/>
<rect x="1236.5" y="1233" width="47.6" height="21.6" fill="#c38ce6" stroke-width="3"/>
<text stroke="none" x="1296.2" y="1217.6" font-size="30.6">Vehicle</text>
<text stroke="none" x="1296.2" y="1255" font-size="30.6">Muscimol 10ng</text>
<text stroke="none" x="1517.8" y="1433" font-size="23.7" text-anchor="middle">p=0.08</text>
<line x1="1838.2" y1="1158.9" x2="1838.2" y2="1568.6" stroke-width="1.5" stroke="#222"/>
<line x1="1831.2" y1="1567.8" x2="1838.2" y2="1567.8" stroke-width="1.5" stroke="#222"/>
<text stroke="none" x="0" y="0" font-size="29.8" text-anchor="end" transform="translate(1827 1577.7) scale(0.96 1)">0</text>
<line x1="1831.2" y1="1465.75" x2="1838.2" y2="1465.75" stroke-width="1.5" stroke="#222"/>
<text stroke="none" x="0" y="0" font-size="29.8" text-anchor="end" transform="translate(1827 1475.65) scale(0.96 1)">20</text>
<line x1="1831.2" y1="1363.7" x2="1838.2" y2="1363.7" stroke-width="1.5" stroke="#222"/>
<text stroke="none" x="0" y="0" font-size="29.8" text-anchor="end" transform="translate(1827 1373.6) scale(0.96 1)">40</text>
<line x1="1831.2" y1="1261.65" x2="1838.2" y2="1261.65" stroke-width="1.5" stroke="#222"/>
<text stroke="none" x="0" y="0" font-size="29.8" text-anchor="end" transform="translate(1827 1271.55) scale(0.96 1)">60</text>
<line x1="1831.2" y1="1159.6" x2="1838.2" y2="1159.6" stroke-width="1.5" stroke="#222"/>
<text stroke="none" x="0" y="0" font-size="29.8" text-anchor="end" transform="translate(1827 1169.5) scale(0.96 1)">80</text>
<rect x="1846.2" y="1352.6" width="38.4" height="215.2" fill="#fff" stroke="none"/><path d="M1847.45 1567.8V1353.85H1883.35V1567.8" fill="none" stroke-width="2.5" stroke-linejoin="round"/>
<rect x="1900.6" y="1506" width="38.4" height="61.8" fill="#b583c6" stroke="none"/><path d="M1901.85 1567.8V1507.25H1937.75V1567.8" fill="none" stroke-width="2.5" stroke-linejoin="round"/>
<line x1="1830" y1="1567.8" x2="1948" y2="1567.8" stroke-width="1.6" stroke="#222"/>
<text stroke="none" x="1922.2" y="1516" font-size="56" font-weight="normal" text-anchor="middle">***</text>
<text x="0" y="0" font-size="33.2" text-anchor="middle" transform="translate(1789 1363) rotate(-90) scale(0.89 1)" stroke="#fff" stroke-width="0.45">Rats showing attacks (%)</text>
</g>
</svg>
</body>
</html>
